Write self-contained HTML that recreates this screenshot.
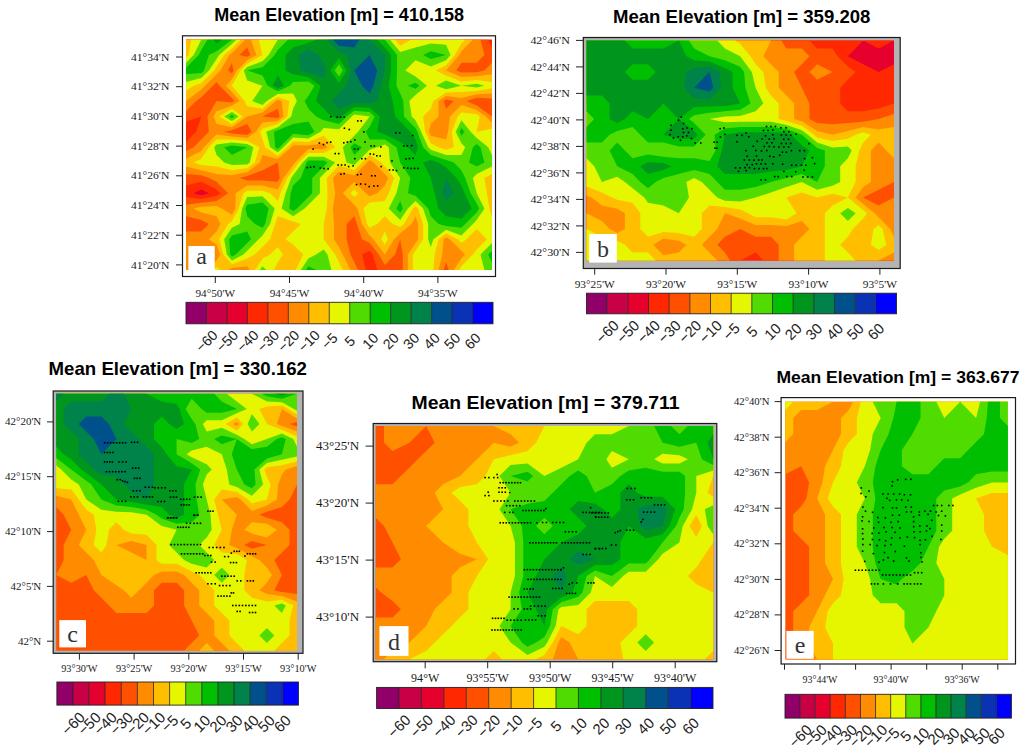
<!DOCTYPE html>
<html><head><meta charset="utf-8"><title>Mean Elevation</title>
<style>
html,body{margin:0;padding:0;background:#fff;width:1024px;height:751px;overflow:hidden;}
svg{display:block;font-family:"Liberation Sans",sans-serif;}
</style></head><body>
<svg width="1024" height="751" viewBox="0 0 1024 751" shape-rendering="auto">
<rect width="1024" height="751" fill="#fff"/>
<rect x="182.5" y="35.8" width="313.0" height="240.7" fill="#ffffff" stroke="#1a1a1a" stroke-width="1.2"/>
<rect x="186.0" y="39.7" width="306.0" height="230.3" fill="#e6002d"/>
<path fill="#ff2800" fill-rule="evenodd" d="M186 39.7L201.3 39.7L216.6 39.7L231.9 39.7L247.2 39.7L262.5 39.7L277.8 39.7L293.1 39.7L308.4 39.7L323.7 39.7L339 39.7L354.3 39.7L369.6 39.7L384.9 39.7L400.2 39.7L415.5 39.7L430.8 39.7L446.1 39.7L461.4 39.7L476.7 39.7L492 39.7L492 55.1L492 70.4L492 85.8L492 101.1L492 116.5L492 131.8L492 147.2L492 162.5L492 177.9L492 193.2L492 208.6L492 223.9L492 239.3L492 254.6L492 270L476.7 270L461.4 270L446.1 270L430.8 270L415.5 270L400.2 270L384.9 270L369.6 270L354.3 270L339 270L323.7 270L308.4 270L293.1 270L277.8 270L262.5 270L247.2 270L231.9 270L216.6 270L201.3 270L186 270L186 254.6L186 239.3L186 223.9L186 208.6L186 193.2L186 177.9L186 162.5L186 147.2L186 131.8L186 131.8L186 131.8L186 116.5L186 101.1L186 85.8L186 70.4L186 55.1ZM201.3 189.4L193.7 193.2L201.3 195.2L208.9 193.2Z"/>
<path fill="#ff5000" fill-rule="evenodd" d="M186 39.7L201.3 39.7L216.6 39.7L231.9 39.7L247.2 39.7L262.5 39.7L277.8 39.7L293.1 39.7L308.4 39.7L323.7 39.7L339 39.7L354.3 39.7L369.6 39.7L384.9 39.7L400.2 39.7L415.5 39.7L430.8 39.7L446.1 39.7L461.4 39.7L476.7 39.7L488.2 39.7L492 47.4L492 55.1L492 70.4L492 85.8L492 101.1L492 116.5L492 131.8L492 147.2L492 162.5L492 177.9L492 193.2L492 208.6L492 223.9L492 239.3L492 254.6L492 270L476.7 270L461.4 270L446.1 270L430.8 270L415.5 270L400.2 270L384.9 270L377.2 270L372.7 254.6L369.6 250.8L362 254.6L365.8 270L354.3 270L339 270L323.7 270L308.4 270L293.1 270L277.8 270L262.5 270L247.2 270L231.9 270L216.6 270L201.3 270L186 270L186 254.6L186 239.3L186 223.9L186 208.6L186 197.1L201.3 199L216.6 195.8L220.4 193.2L216.6 189.4L201.3 181.7L186 185.6L186 177.9L186 162.5L186 147.2L186 142.1L196.2 131.8L201.3 116.5L201.3 116.5L201.3 116.5L201.3 116.5L186 121.6L186 116.5L186 101.1L186 85.8L186 70.4L186 55.1ZM247.2 131.8L247.2 131.8L247.2 131.8L247.2 131.8ZM476.7 101.1L476.7 101.1L476.7 101.1L476.7 101.1Z"/>
<path fill="#ff8c00" fill-rule="evenodd" d="M186 39.7L201.3 39.7L216.6 39.7L231.9 39.7L247.2 39.7L262.5 39.7L277.8 39.7L293.1 39.7L308.4 39.7L323.7 39.7L339 39.7L354.3 39.7L369.6 39.7L384.9 39.7L400.2 39.7L415.5 39.7L430.8 39.7L446.1 39.7L461.4 39.7L476.7 39.7L480.5 39.7L484.4 55.1L476.7 62.7L461.4 62.7L456.3 70.4L461.4 72.6L476.7 72.3L484.4 70.4L492 62.7L492 70.4L492 85.8L492 98.6L476.7 97.7L466.5 101.1L476.7 105.5L492 116.5L492 116.5L492 131.8L492 147.2L492 162.5L492 177.9L492 193.2L492 208.6L492 223.9L492 239.3L492 254.6L492 270L476.7 270L461.4 270L448.7 270L446.1 262.3L443.6 270L430.8 270L415.5 270L402.8 270L402.8 254.6L400.2 239.3L400.2 239.3L400.2 239.3L395.1 254.6L384.9 264.9L378.8 254.6L369.6 243.1L362 239.3L356.9 223.9L354.3 216.3L346.6 223.9L346.6 239.3L350.5 254.6L354.3 262.3L358.1 270L354.3 270L339 270L323.7 270L308.4 270L293.1 270L277.8 270L262.5 270L247.2 270L231.9 270L216.6 270L201.3 270L186 270L186 254.6L186 239.3L186 231.6L201.3 231.6L208.9 223.9L201.3 220.1L186 216.3L186 208.6L186 204.7L201.3 202.8L216.6 200.9L228.1 193.2L216.6 181.7L208.9 177.9L201.3 175.3L186 174L186 162.5L186 151L193.7 147.2L201.3 139.5L208.9 131.8L207.4 116.5L216.6 101.1L231.9 102.6L234.4 101.1L231.9 98L219.7 85.8L216.6 81.9L212.8 85.8L201.3 97.3L196.2 101.1L186 111.3L186 101.1L186 85.8L186 70.4L186 55.1ZM231.9 62.7L228.1 70.4L231.9 73.5L233.6 70.4ZM247.2 47.4L239.6 55.1L247.2 56.8L250.3 55.1ZM262.5 116.5L262.5 116.5L262.5 116.5L277.8 118L279.7 116.5L277.8 108.8ZM339 177.9L339 177.9L339 177.9L339 177.9ZM446.1 99.4L443.6 101.1L446.1 108.8L453.8 101.1ZM216.6 254.6L216.6 254.6L216.6 254.6L216.6 254.6ZM231.9 130.3L224.2 131.8L231.9 133.4L247.2 134.9L251.6 131.8L247.2 124.1ZM277.8 162.5L277.8 162.5L262.5 170.2L247.2 176L239.6 177.9L247.2 180.4L262.5 180.4L277.8 181.7L279.7 177.9L277.8 162.5ZM339 208.6L339 208.6L339 208.6L339 208.6ZM231.9 208.6L231.9 208.6L231.9 208.6L231.9 208.6Z"/>
<path fill="#ffbe00" fill-rule="evenodd" d="M186 39.7L201.3 39.7L216.6 39.7L231.9 39.7L245 39.7L231.9 52.9L229.3 55.1L220.4 70.4L216.6 74.2L205.1 85.8L201.3 89.6L186 101.1L186 85.8L186 70.4L186 55.1ZM251 39.7L262.5 39.7L277.8 39.7L293.1 39.7L308.4 39.7L323.7 39.7L339 39.7L354.3 39.7L369.6 39.7L384.9 39.7L400.2 39.7L400.2 39.7L400.2 39.7L415.5 39.7L430.8 39.7L446.1 39.7L461.4 39.7L472.9 39.7L461.4 51.2L459.2 55.1L446.1 70.4L446.1 70.4L446.1 70.4L461.4 77L476.7 76.2L492 74.2L492 85.8L492 93.4L476.7 94.3L461.4 98L446.1 96L438.5 101.1L438.5 116.5L430.8 124.1L428.9 131.8L430.8 135.7L446.1 139.5L448 131.8L449.9 116.5L461.4 105L476.7 109.9L485.9 116.5L492 122.6L492 131.8L492 147.2L492 162.5L492 177.9L492 193.2L492 208.6L492 223.9L492 239.3L492 254.6L492 270L476.7 270L461.4 270L453.8 270L461.4 258.5L465.2 254.6L461.4 250.8L449.9 239.3L446.1 237.4L443.6 239.3L442.3 254.6L438.5 270L430.8 270L415.5 270L407.9 270L407.9 254.6L415.5 243.1L418.1 239.3L418.1 223.9L415.5 216.3L411.7 223.9L400.2 233.2L394.1 239.3L384.9 254.6L373.4 239.3L369.6 235.5L362 223.9L357.4 208.6L354.3 204.7L342.8 193.2L354.3 181.7L365.8 193.2L369.6 196.3L377.2 193.2L384.9 185.6L388 177.9L384.9 174L373.4 162.5L369.6 160L367.1 162.5L354.3 175.3L339 171.7L332.9 177.9L335.2 193.2L332.9 208.6L333.9 223.9L333.9 239.3L339 247L342.8 254.6L350.5 270L339 270L323.7 270L308.4 270L293.1 270L277.8 270L262.5 270L249.8 270L247.2 266.2L231.9 268.1L228.1 270L216.6 270L205.1 270L216.6 260.8L220 254.6L216.6 244.4L208.9 239.3L216.6 231.6L220.4 223.9L216.6 216.3L201.3 212.4L193.7 208.6L201.3 206.7L216.6 206L221.7 208.6L231.9 214.7L235.3 208.6L235.7 193.2L247.2 185.6L262.5 185.6L277.8 189.4L283.5 177.9L293.1 165.1L295 162.5L308.4 149.1L323.7 149.1L327.5 147.2L323.7 143.3L308.4 145.5L293.1 145.3L291.2 147.2L277.8 159.1L262.5 154.9L259.9 162.5L247.2 172.1L231.9 175.3L216.6 174L201.3 170.2L186 166.4L186 162.5L186 158.7L201.3 151L203.9 147.2L216.6 134.4L231.9 136.4L247.2 138L255.9 131.8L262.5 122.6L277.8 121.1L283.5 116.5L281.6 101.1L277.8 99.7L275.6 101.1L262.5 112.6L247.2 116.5L247.2 116.5L231.9 127.2L216.6 124.1L213.5 116.5L216.6 111.3L231.9 105.7L239.6 101.1L231.9 91.9L225.8 85.8L231.9 79.6L237 70.4L247.2 60.2L256.4 55.1ZM476.7 239.3L476.7 239.3L476.7 239.3L476.7 239.3ZM293.1 254.6L293.1 254.6L293.1 254.6L293.1 254.6Z"/>
<path fill="#e6f500" fill-rule="evenodd" d="M191.1 39.7L201.3 39.7L216.6 39.7L231.9 39.7L240.6 39.7L231.9 48.5L224.2 55.1L216.6 66.6L214.1 70.4L201.3 83.2L193.7 85.8L186 90.9L186 85.8L186 70.4L186 57.6L188.6 55.1ZM258.7 39.7L262.5 39.7L277.8 39.7L293.1 39.7L308.4 39.7L323.7 39.7L339 39.7L354.3 39.7L369.6 39.7L384.9 39.7L395.1 39.7L400.2 45.8L410.4 39.7L415.5 39.7L430.8 39.7L446.1 39.7L461.4 39.7L465.2 39.7L461.4 43.5L454.8 55.1L446.1 65.3L435.9 70.4L446.1 75.5L461.4 81.4L476.7 80L492 81.9L492 85.8L492 88.3L476.7 90.9L461.4 91.9L446.1 92.6L433.4 101.1L430.8 108.8L423.1 116.5L425.1 131.8L430.8 143.3L438.5 147.2L446.1 149.7L453.8 147.2L451.8 131.8L457.6 116.5L461.4 112.6L476.7 114.3L479.8 116.5L476.7 131.8L476.7 131.8L476.7 131.8L476.7 131.8L492 128.7L492 131.8L492 147.2L492 162.5L492 174L484.4 177.9L486.9 193.2L489.4 208.6L492 216.3L492 223.9L492 239.3L492 254.6L492 270L476.7 270L461.4 270L458.9 270L461.4 266.2L472.9 254.6L476.7 249.5L486.9 239.3L476.7 229.1L466.5 239.3L461.4 243.1L457.6 239.3L446.1 233.5L438.5 239.3L434.6 254.6L433.4 270L430.8 270L415.5 270L412.9 270L412.9 254.6L415.5 250.8L423.1 239.3L423.1 223.9L418.1 208.6L415.5 206L412.9 208.6L404 223.9L400.2 227L392.6 223.9L384.9 216.3L377.2 223.9L369.6 227.8L367.1 223.9L363.5 208.6L369.6 202.4L384.9 200.9L388.7 193.2L394.1 177.9L384.9 166.4L381.1 162.5L369.6 154.9L362 162.5L354.3 170.2L339 165.6L326.8 177.9L327.5 193.2L326.8 208.6L323.7 223.9L323.7 223.9L323.7 239.3L323.7 239.3L335.2 254.6L339 262.3L342.8 270L339 270L323.7 270L308.4 270L295.7 270L303.3 254.6L293.1 244.4L285.5 239.3L293.1 231.6L300.8 223.9L293.1 221.4L277.8 216.3L275.2 223.9L270.1 239.3L262.5 247L254.8 254.6L247.2 258.5L231.9 264.2L223.4 254.6L219.2 239.3L228.1 223.9L231.9 220.9L238.7 208.6L243.4 193.2L247.2 190.7L262.5 190.7L270.1 193.2L277.8 200.9L280.4 193.2L287.4 177.9L293.1 170.2L298.8 162.5L308.4 152.9L323.7 152.9L335.2 147.2L323.7 135.7L308.4 142.1L293.1 141.4L287.4 147.2L277.8 155.7L265.1 147.2L262.5 139.5L260.3 131.8L262.5 128.7L277.8 124.1L287.4 116.5L289.3 101.1L277.8 96.9L271.2 101.1L262.5 108.8L247.2 106.2L244.6 101.1L231.9 85.8L240.4 70.4L247.2 63.6L262.5 55.1L262.5 55.1L262.5 55.1ZM415.5 70.4L415.5 70.4L415.5 70.4L415.5 70.4ZM415.5 101.1L415.5 101.1L415.5 101.1L415.5 101.1ZM219.2 116.5L231.9 108.8L242.8 116.5L231.9 124.1ZM208.9 147.2L216.6 139.5L231.9 139.5L247.2 141L259.4 147.2L254.8 162.5L247.2 168.3L231.9 170.2L216.6 166.4L201.3 165.1L193.7 162.5L201.3 158.7ZM350.5 193.2L354.3 189.4L358.1 193.2L354.3 197.1ZM381.1 239.3L384.9 231.6L388 239.3L384.9 244.4ZM270.1 254.6L277.8 247L282.9 254.6L277.8 262.3L274 270L262.5 270L254.8 270L262.5 258.5ZM212.8 270L216.6 266.9L220.4 270L216.6 270Z"/>
<path fill="#50dc00" fill-rule="evenodd" d="M193.7 55.1L201.3 39.7L201.3 39.7L216.6 39.7L231.9 39.7L236.3 39.7L231.9 44.1L219.1 55.1L216.6 58.9L208.9 70.4L201.3 78.1L186 81.9L186 70.4L186 62.7ZM268.6 55.1L277.8 39.7L277.8 39.7L293.1 39.7L308.4 39.7L323.7 39.7L339 39.7L354.3 39.7L369.6 39.7L384.9 39.7L390 39.7L400.2 52L415.5 47.4L430.8 43.5L446.1 44.8L450.5 55.1L446.1 60.2L430.8 66.6L415.5 60.2L405.3 70.4L415.5 76.5L427 85.8L415.5 95L409.4 101.1L411.7 116.5L415.5 120.3L421.2 131.8L428.2 147.2L430.8 149.7L446.1 154.9L461.4 154.9L465.2 147.2L461.4 143.3L455.7 131.8L461.4 120.3L470.6 131.8L476.7 138L488.2 147.2L492 154.9L492 162.5L492 166.4L476.7 174L472.9 177.9L476.7 193.2L476.7 193.2L484.4 208.6L476.7 220.1L472.9 223.9L461.4 235.5L446.1 229.7L433.4 239.3L430.8 247L428.2 239.3L428.2 223.9L423.1 208.6L415.5 200.9L407.9 208.6L400.2 220.1L388.7 208.6L396.4 193.2L400.2 177.9L400.2 177.9L400.2 177.9L390 162.5L388.7 147.2L384.9 144.6L377.2 147.2L369.6 149.7L356.8 162.5L354.3 165.1L346.6 162.5L342.8 147.2L354.3 135.7L358.1 131.8L369.6 116.5L369.6 116.5L369.6 116.5L354.3 114.5L351.8 116.5L339 129.3L323.7 128L320.6 131.8L308.4 138.6L293.1 137.6L283.5 147.2L277.8 152.3L270.1 147.2L266.3 131.8L277.8 127.2L291.2 116.5L293.1 108.8L296.9 101.1L293.1 93.4L277.8 94.1L266.9 101.1L262.5 105L252.3 101.1L262.5 85.8L262.5 85.8L262.5 85.8L247.2 80.6L243.8 70.4L247.2 67L262.5 61.2ZM308.4 85.8L308.4 85.8L308.4 85.8L308.4 85.8ZM339 70.4L339 70.4L339 70.4L339 70.4ZM435.9 85.8L446.1 80.6L461.4 85.8L446.1 89.2ZM461.4 85.8L476.7 83.8L484.4 85.8L476.7 87.5ZM224.2 116.5L231.9 111.9L238.5 116.5L231.9 121.1ZM214.1 147.2L216.6 144.6L231.9 142.6L247.2 144.1L253.3 147.2L249.8 162.5L247.2 164.4L231.9 165.1L224.2 162.5L216.6 154.9ZM302.7 162.5L308.4 156.8L323.7 156.8L335.2 162.5L323.7 174L319.9 177.9L319.9 193.2L308.4 204.7L304.6 208.6L293.1 216.3L281.6 208.6L285.5 193.2L291.2 177.9L293.1 175.3ZM242.1 208.6L247.2 197.1L262.5 196.3L274.7 208.6L270.1 223.9L262.5 235.5L258.7 239.3L247.2 250.8L243.4 254.6L231.9 260.4L226.8 254.6L224.2 239.3L231.9 227.8L239.6 223.9ZM316.1 254.6L323.7 249.5L327.5 254.6L331.4 270L323.7 270L308.4 270L300.8 270L308.4 258.5ZM480.5 254.6L492 243.1L492 254.6L492 270L484.4 270ZM259.9 270L262.5 266.2L266.3 270L262.5 270Z"/>
<path fill="#00be00" fill-rule="evenodd" d="M198.8 55.1L201.3 49.9L207.4 39.7L216.6 39.7L231.9 39.7L216.6 51.2L208.9 55.1L203.9 70.4L201.3 73L186 74.2L186 70.4L186 67.8ZM274.7 55.1L277.8 49.9L288 39.7L293.1 39.7L308.4 39.7L323.7 39.7L339 39.7L354.3 39.7L369.6 39.7L384.9 39.7L384.9 39.7L397.1 55.1L397.1 70.4L396.4 85.8L400.2 93.4L403.3 101.1L404 116.5L415.5 128L417.4 131.8L423.1 147.2L430.8 154.9L446.1 160L453.8 162.5L461.4 170.2L465.2 177.9L470.6 193.2L476.7 203.5L479.2 208.6L476.7 212.4L465.2 223.9L461.4 227.8L446.1 225.9L438.5 223.9L430.8 216.3L428.2 208.6L415.5 195.8L407.9 193.2L410.4 177.9L400.2 162.5L400.2 162.5L396.4 147.2L384.9 139.5L369.6 139.5L365.8 131.8L369.6 126.7L374.7 116.5L369.6 112.1L354.3 110.7L346.6 116.5L339 124.1L323.7 120.3L316.1 116.5L308.4 108.8L304.6 101.1L308.4 96L314.5 85.8L308.4 81.4L293.1 81.9L290 85.8L277.8 91.3L267.6 85.8L262.5 75.5L247.2 70.4L262.5 67.3ZM339 64.3L334.6 70.4L339 76.5L342.8 70.4ZM423.1 55.1L430.8 51.2L446.1 55.1L430.8 58.9ZM407.9 85.8L415.5 82.7L419.3 85.8L415.5 88.8ZM229.3 116.5L231.9 114.9L234.1 116.5L231.9 118ZM274 131.8L277.8 130.3L293.1 124.1L308.4 121.6L314.5 131.8L308.4 135.2L293.1 133.7L279.7 147.2L277.8 148.9L275.2 147.2ZM459.5 131.8L461.4 128L464.5 131.8L461.4 135.7ZM224.2 147.2L231.9 145.6L247.2 147.2L231.9 154.9ZM350.5 147.2L354.3 143.3L362 147.2L354.3 154.9ZM472.9 147.2L476.7 144.1L480.5 147.2L484.4 162.5L476.7 166.4L469.1 162.5ZM306.5 162.5L308.4 160.6L323.7 160.6L327.5 162.5L323.7 166.4L312.2 177.9L312.2 193.2L308.4 197.1L296.9 208.6L293.1 211.1L289.3 208.6L290.6 193.2L293.1 185.6L300.8 177.9ZM245.5 208.6L247.2 204.7L262.5 202.4L268.6 208.6L265.1 223.9L262.5 227.8L254.8 223.9L247.2 216.3ZM396.4 208.6L400.2 200.9L402.8 208.6L400.2 212.4ZM229.3 239.3L231.9 235.5L247.2 231.6L251 239.3L247.2 243.1L235.7 254.6L231.9 256.6L230.2 254.6ZM488.2 254.6L492 250.8L492 254.6L492 262.3ZM305.9 270L308.4 266.2L316.1 270L308.4 270Z"/>
<path fill="#00961e" fill-rule="evenodd" d="M213.5 39.7L216.6 39.7L221.7 39.7L216.6 43.5ZM285.5 55.1L293.1 47.4L308.4 42.8L316.1 39.7L323.7 39.7L339 39.7L354.3 39.7L369.6 39.7L377.2 39.7L384.9 47.4L391 55.1L391 70.4L388.7 85.8L392.6 101.1L395.1 116.5L400.2 121.6L410.4 131.8L415.5 139.5L418 147.2L415.5 154.9L407.9 147.2L400.2 142.1L384.9 134.4L377.2 131.8L379.8 116.5L369.6 107.7L354.3 106.9L341.6 116.5L339 119L331.4 116.5L323.7 108.8L316.1 101.1L320.6 85.8L308.4 77L293.1 74.2L285.5 70.4ZM339 58.1L330.3 70.4L339 82.7L346.6 70.4ZM272.7 85.8L277.8 75.5L283.9 85.8L277.8 88.6ZM423.1 162.5L430.8 160L438.5 162.5L446.1 167.6L456.3 177.9L461.4 185.6L464.5 193.2L471.6 208.6L461.4 218.8L446.1 216.3L438.5 208.6L434.6 193.2L430.8 177.9L430.8 177.9Z"/>
<path fill="#00824b" fill-rule="evenodd" d="M298.2 55.1L308.4 48.9L318.6 55.1L323.7 62.7L325.9 70.4L323.7 78.1L308.4 72.6L300.8 70.4ZM326.8 39.7L339 39.7L354.3 39.7L369.6 39.7L369.6 39.7L384.9 55.1L384.9 70.4L381.1 85.8L377.2 101.1L369.6 103.3L354.3 103L339 108.8L331.4 101.1L339 93.4L346.6 85.8L350.5 70.4L346.6 55.1L339 52ZM442.3 193.2L446.1 177.9L453.8 193.2L446.1 200.9Z"/>
<path fill="#00508c" fill-rule="evenodd" d="M332.9 39.7L339 39.7L354.3 39.7L359.4 39.7L354.3 47.4L339 45.8ZM354.3 70.4L369.6 55.1L377.2 70.4L373.4 85.8L369.6 93.4L362 85.8Z"/>
<rect x="330.0" y="115.9" width="1.6" height="1.6" fill="#000"/>
<rect x="336.4" y="116.3" width="1.6" height="1.6" fill="#000"/>
<rect x="339.8" y="116.3" width="1.6" height="1.6" fill="#000"/>
<rect x="343.4" y="116.3" width="1.6" height="1.6" fill="#000"/>
<rect x="357.0" y="120.1" width="1.6" height="1.6" fill="#000"/>
<rect x="360.4" y="120.1" width="1.6" height="1.6" fill="#000"/>
<rect x="343.6" y="127.4" width="1.6" height="1.6" fill="#000"/>
<rect x="348.5" y="128.7" width="1.6" height="1.6" fill="#000"/>
<rect x="363.1" y="131.1" width="1.6" height="1.6" fill="#000"/>
<rect x="395.0" y="132.1" width="1.6" height="1.6" fill="#000"/>
<rect x="398.9" y="132.1" width="1.6" height="1.6" fill="#000"/>
<rect x="411.9" y="134.7" width="1.6" height="1.6" fill="#000"/>
<rect x="318.6" y="142.3" width="1.6" height="1.6" fill="#000"/>
<rect x="322.7" y="143.8" width="1.6" height="1.6" fill="#000"/>
<rect x="326.2" y="141.9" width="1.6" height="1.6" fill="#000"/>
<rect x="329.9" y="141.3" width="1.6" height="1.6" fill="#000"/>
<rect x="343.0" y="142.0" width="1.6" height="1.6" fill="#000"/>
<rect x="346.6" y="141.3" width="1.6" height="1.6" fill="#000"/>
<rect x="350.0" y="140.9" width="1.6" height="1.6" fill="#000"/>
<rect x="354.0" y="139.1" width="1.6" height="1.6" fill="#000"/>
<rect x="364.2" y="141.3" width="1.6" height="1.6" fill="#000"/>
<rect x="370.3" y="145.2" width="1.6" height="1.6" fill="#000"/>
<rect x="373.5" y="145.2" width="1.6" height="1.6" fill="#000"/>
<rect x="380.1" y="146.1" width="1.6" height="1.6" fill="#000"/>
<rect x="403.0" y="145.1" width="1.6" height="1.6" fill="#000"/>
<rect x="406.5" y="145.1" width="1.6" height="1.6" fill="#000"/>
<rect x="410.9" y="144.8" width="1.6" height="1.6" fill="#000"/>
<rect x="312.3" y="148.3" width="1.6" height="1.6" fill="#000"/>
<rect x="353.8" y="148.3" width="1.6" height="1.6" fill="#000"/>
<rect x="357.3" y="148.3" width="1.6" height="1.6" fill="#000"/>
<rect x="334.4" y="152.8" width="1.6" height="1.6" fill="#000"/>
<rect x="337.9" y="152.8" width="1.6" height="1.6" fill="#000"/>
<rect x="369.4" y="153.1" width="1.6" height="1.6" fill="#000"/>
<rect x="372.8" y="153.5" width="1.6" height="1.6" fill="#000"/>
<rect x="376.0" y="155.0" width="1.6" height="1.6" fill="#000"/>
<rect x="379.4" y="155.2" width="1.6" height="1.6" fill="#000"/>
<rect x="391.2" y="160.1" width="1.6" height="1.6" fill="#000"/>
<rect x="354.0" y="157.9" width="1.6" height="1.6" fill="#000"/>
<rect x="361.0" y="157.9" width="1.6" height="1.6" fill="#000"/>
<rect x="364.6" y="157.9" width="1.6" height="1.6" fill="#000"/>
<rect x="405.2" y="158.2" width="1.6" height="1.6" fill="#000"/>
<rect x="408.6" y="157.8" width="1.6" height="1.6" fill="#000"/>
<rect x="412.2" y="157.5" width="1.6" height="1.6" fill="#000"/>
<rect x="337.3" y="164.2" width="1.6" height="1.6" fill="#000"/>
<rect x="340.8" y="164.2" width="1.6" height="1.6" fill="#000"/>
<rect x="344.3" y="164.2" width="1.6" height="1.6" fill="#000"/>
<rect x="347.8" y="165.8" width="1.6" height="1.6" fill="#000"/>
<rect x="352.3" y="165.1" width="1.6" height="1.6" fill="#000"/>
<rect x="306.4" y="166.8" width="1.6" height="1.6" fill="#000"/>
<rect x="309.7" y="166.4" width="1.6" height="1.6" fill="#000"/>
<rect x="313.2" y="166.0" width="1.6" height="1.6" fill="#000"/>
<rect x="319.5" y="167.3" width="1.6" height="1.6" fill="#000"/>
<rect x="323.1" y="167.7" width="1.6" height="1.6" fill="#000"/>
<rect x="327.4" y="168.1" width="1.6" height="1.6" fill="#000"/>
<rect x="380.4" y="165.8" width="1.6" height="1.6" fill="#000"/>
<rect x="388.7" y="169.2" width="1.6" height="1.6" fill="#000"/>
<rect x="392.3" y="169.2" width="1.6" height="1.6" fill="#000"/>
<rect x="395.7" y="169.8" width="1.6" height="1.6" fill="#000"/>
<rect x="403.0" y="167.0" width="1.6" height="1.6" fill="#000"/>
<rect x="406.9" y="167.3" width="1.6" height="1.6" fill="#000"/>
<rect x="410.3" y="167.7" width="1.6" height="1.6" fill="#000"/>
<rect x="413.8" y="167.7" width="1.6" height="1.6" fill="#000"/>
<rect x="417.3" y="167.7" width="1.6" height="1.6" fill="#000"/>
<rect x="340.1" y="173.4" width="1.6" height="1.6" fill="#000"/>
<rect x="343.4" y="172.8" width="1.6" height="1.6" fill="#000"/>
<rect x="356.7" y="174.0" width="1.6" height="1.6" fill="#000"/>
<rect x="360.1" y="173.4" width="1.6" height="1.6" fill="#000"/>
<rect x="370.9" y="175.0" width="1.6" height="1.6" fill="#000"/>
<rect x="374.4" y="175.0" width="1.6" height="1.6" fill="#000"/>
<rect x="355.7" y="183.8" width="1.6" height="1.6" fill="#000"/>
<rect x="359.9" y="183.2" width="1.6" height="1.6" fill="#000"/>
<rect x="364.6" y="183.5" width="1.6" height="1.6" fill="#000"/>
<rect x="368.4" y="185.8" width="1.6" height="1.6" fill="#000"/>
<rect x="373.1" y="185.2" width="1.6" height="1.6" fill="#000"/>
<rect x="376.9" y="185.1" width="1.6" height="1.6" fill="#000"/>
<rect x="188.4" y="246.0" width="26.3" height="24.0" fill="#fff"/>
<text x="201.5" y="264.0" font-family="Liberation Serif" font-size="24.0" text-anchor="middle" fill="#333">a</text>
<text x="214.2" y="21.0" font-family="Liberation Sans" font-weight="bold" font-size="17.7" textLength="249.8" lengthAdjust="spacingAndGlyphs" fill="#000">Mean Elevation [m] = 410.158</text>
<line x1="176.0" y1="57.0" x2="182.5" y2="57.0" stroke="#222" stroke-width="1"/>
<text x="169.3" y="60.6" font-family="Liberation Serif" font-size="11.0" text-anchor="end" textLength="38.4" lengthAdjust="spacingAndGlyphs" fill="#1a1a1a">41°34'N</text>
<line x1="176.0" y1="86.7" x2="182.5" y2="86.7" stroke="#222" stroke-width="1"/>
<text x="169.3" y="90.3" font-family="Liberation Serif" font-size="11.0" text-anchor="end" textLength="38.4" lengthAdjust="spacingAndGlyphs" fill="#1a1a1a">41°32'N</text>
<line x1="176.0" y1="116.4" x2="182.5" y2="116.4" stroke="#222" stroke-width="1"/>
<text x="169.3" y="120.0" font-family="Liberation Serif" font-size="11.0" text-anchor="end" textLength="38.4" lengthAdjust="spacingAndGlyphs" fill="#1a1a1a">41°30'N</text>
<line x1="176.0" y1="146.1" x2="182.5" y2="146.1" stroke="#222" stroke-width="1"/>
<text x="169.3" y="149.7" font-family="Liberation Serif" font-size="11.0" text-anchor="end" textLength="38.4" lengthAdjust="spacingAndGlyphs" fill="#1a1a1a">41°28'N</text>
<line x1="176.0" y1="175.8" x2="182.5" y2="175.8" stroke="#222" stroke-width="1"/>
<text x="169.3" y="179.4" font-family="Liberation Serif" font-size="11.0" text-anchor="end" textLength="38.4" lengthAdjust="spacingAndGlyphs" fill="#1a1a1a">41°26'N</text>
<line x1="176.0" y1="205.5" x2="182.5" y2="205.5" stroke="#222" stroke-width="1"/>
<text x="169.3" y="209.1" font-family="Liberation Serif" font-size="11.0" text-anchor="end" textLength="38.4" lengthAdjust="spacingAndGlyphs" fill="#1a1a1a">41°24'N</text>
<line x1="176.0" y1="235.2" x2="182.5" y2="235.2" stroke="#222" stroke-width="1"/>
<text x="169.3" y="238.8" font-family="Liberation Serif" font-size="11.0" text-anchor="end" textLength="38.4" lengthAdjust="spacingAndGlyphs" fill="#1a1a1a">41°22'N</text>
<line x1="176.0" y1="264.9" x2="182.5" y2="264.9" stroke="#222" stroke-width="1"/>
<text x="169.3" y="268.5" font-family="Liberation Serif" font-size="11.0" text-anchor="end" textLength="38.4" lengthAdjust="spacingAndGlyphs" fill="#1a1a1a">41°20'N</text>
<line x1="215.3" y1="276.5" x2="215.3" y2="283.0" stroke="#222" stroke-width="1"/>
<text x="215.3" y="296.6" font-family="Liberation Serif" font-size="11.0" text-anchor="middle" textLength="39.6" lengthAdjust="spacingAndGlyphs" fill="#1a1a1a">94°50'W</text>
<line x1="289.5" y1="276.5" x2="289.5" y2="283.0" stroke="#222" stroke-width="1"/>
<text x="289.5" y="296.6" font-family="Liberation Serif" font-size="11.0" text-anchor="middle" textLength="39.6" lengthAdjust="spacingAndGlyphs" fill="#1a1a1a">94°45'W</text>
<line x1="363.7" y1="276.5" x2="363.7" y2="283.0" stroke="#222" stroke-width="1"/>
<text x="363.7" y="296.6" font-family="Liberation Serif" font-size="11.0" text-anchor="middle" textLength="39.6" lengthAdjust="spacingAndGlyphs" fill="#1a1a1a">94°40'W</text>
<line x1="437.9" y1="276.5" x2="437.9" y2="283.0" stroke="#222" stroke-width="1"/>
<text x="437.9" y="296.6" font-family="Liberation Serif" font-size="11.0" text-anchor="middle" textLength="39.6" lengthAdjust="spacingAndGlyphs" fill="#1a1a1a">94°35'W</text>
<rect x="186.00" y="302.3" width="20.47" height="21.5" fill="#910069"/>
<rect x="206.47" y="302.3" width="20.47" height="21.5" fill="#c80046"/>
<rect x="226.93" y="302.3" width="20.47" height="21.5" fill="#e6002d"/>
<rect x="247.40" y="302.3" width="20.47" height="21.5" fill="#ff2800"/>
<rect x="267.87" y="302.3" width="20.47" height="21.5" fill="#ff5000"/>
<rect x="288.33" y="302.3" width="20.47" height="21.5" fill="#ff8c00"/>
<rect x="308.80" y="302.3" width="20.47" height="21.5" fill="#ffbe00"/>
<rect x="329.27" y="302.3" width="20.47" height="21.5" fill="#e6f500"/>
<rect x="349.73" y="302.3" width="20.47" height="21.5" fill="#50dc00"/>
<rect x="370.20" y="302.3" width="20.47" height="21.5" fill="#00be00"/>
<rect x="390.67" y="302.3" width="20.47" height="21.5" fill="#00961e"/>
<rect x="411.13" y="302.3" width="20.47" height="21.5" fill="#00824b"/>
<rect x="431.60" y="302.3" width="20.47" height="21.5" fill="#00508c"/>
<rect x="452.07" y="302.3" width="20.47" height="21.5" fill="#0a32b4"/>
<rect x="472.53" y="302.3" width="20.47" height="21.5" fill="#0000ff"/>
<line x1="206.47" y1="302.3" x2="206.47" y2="323.8" stroke="#222" stroke-width="0.8"/>
<line x1="226.93" y1="302.3" x2="226.93" y2="323.8" stroke="#222" stroke-width="0.8"/>
<line x1="247.40" y1="302.3" x2="247.40" y2="323.8" stroke="#222" stroke-width="0.8"/>
<line x1="267.87" y1="302.3" x2="267.87" y2="323.8" stroke="#222" stroke-width="0.8"/>
<line x1="288.33" y1="302.3" x2="288.33" y2="323.8" stroke="#222" stroke-width="0.8"/>
<line x1="308.80" y1="302.3" x2="308.80" y2="323.8" stroke="#222" stroke-width="0.8"/>
<line x1="329.27" y1="302.3" x2="329.27" y2="323.8" stroke="#222" stroke-width="0.8"/>
<line x1="349.73" y1="302.3" x2="349.73" y2="323.8" stroke="#222" stroke-width="0.8"/>
<line x1="370.20" y1="302.3" x2="370.20" y2="323.8" stroke="#222" stroke-width="0.8"/>
<line x1="390.67" y1="302.3" x2="390.67" y2="323.8" stroke="#222" stroke-width="0.8"/>
<line x1="411.13" y1="302.3" x2="411.13" y2="323.8" stroke="#222" stroke-width="0.8"/>
<line x1="431.60" y1="302.3" x2="431.60" y2="323.8" stroke="#222" stroke-width="0.8"/>
<line x1="452.07" y1="302.3" x2="452.07" y2="323.8" stroke="#222" stroke-width="0.8"/>
<line x1="472.53" y1="302.3" x2="472.53" y2="323.8" stroke="#222" stroke-width="0.8"/>
<rect x="186.0" y="302.3" width="307.0" height="21.5" fill="none" stroke="#222" stroke-width="0.9"/>
<text x="206.5" y="346.1" font-family="Liberation Sans" font-size="14.2" text-anchor="middle" transform="rotate(-45 206.5 341.0)" fill="#222">−60</text>
<text x="226.9" y="346.1" font-family="Liberation Sans" font-size="14.2" text-anchor="middle" transform="rotate(-45 226.9 341.0)" fill="#222">−50</text>
<text x="247.4" y="346.1" font-family="Liberation Sans" font-size="14.2" text-anchor="middle" transform="rotate(-45 247.4 341.0)" fill="#222">−40</text>
<text x="267.9" y="346.1" font-family="Liberation Sans" font-size="14.2" text-anchor="middle" transform="rotate(-45 267.9 341.0)" fill="#222">−30</text>
<text x="288.3" y="346.1" font-family="Liberation Sans" font-size="14.2" text-anchor="middle" transform="rotate(-45 288.3 341.0)" fill="#222">−20</text>
<text x="308.8" y="346.1" font-family="Liberation Sans" font-size="14.2" text-anchor="middle" transform="rotate(-45 308.8 341.0)" fill="#222">−10</text>
<text x="329.3" y="346.1" font-family="Liberation Sans" font-size="14.2" text-anchor="middle" transform="rotate(-45 329.3 341.0)" fill="#222">−5</text>
<text x="349.7" y="346.1" font-family="Liberation Sans" font-size="14.2" text-anchor="middle" transform="rotate(-45 349.7 341.0)" fill="#222">5</text>
<text x="370.2" y="346.1" font-family="Liberation Sans" font-size="14.2" text-anchor="middle" transform="rotate(-45 370.2 341.0)" fill="#222">10</text>
<text x="390.7" y="346.1" font-family="Liberation Sans" font-size="14.2" text-anchor="middle" transform="rotate(-45 390.7 341.0)" fill="#222">20</text>
<text x="411.1" y="346.1" font-family="Liberation Sans" font-size="14.2" text-anchor="middle" transform="rotate(-45 411.1 341.0)" fill="#222">30</text>
<text x="431.6" y="346.1" font-family="Liberation Sans" font-size="14.2" text-anchor="middle" transform="rotate(-45 431.6 341.0)" fill="#222">40</text>
<text x="452.1" y="346.1" font-family="Liberation Sans" font-size="14.2" text-anchor="middle" transform="rotate(-45 452.1 341.0)" fill="#222">50</text>
<text x="472.5" y="346.1" font-family="Liberation Sans" font-size="14.2" text-anchor="middle" transform="rotate(-45 472.5 341.0)" fill="#222">60</text>
<rect x="583.3" y="37.5" width="316.9" height="231.0" fill="#b3b3b3" stroke="#1a1a1a" stroke-width="1.2"/>
<rect x="586.5" y="40.6" width="307.5" height="219.8" fill="#e6002d"/>
<path fill="#ff2800" fill-rule="evenodd" d="M586.5 40.6L601.9 40.6L617.2 40.6L632.6 40.6L648 40.6L663.4 40.6L678.8 40.6L694.1 40.6L709.5 40.6L724.9 40.6L740.2 40.6L755.6 40.6L771 40.6L786.4 40.6L801.8 40.6L817.1 40.6L832.5 40.6L847.9 40.6L863.2 40.6L847.9 56.3L847.9 56.3L847.9 56.3L863.2 64.2L878.6 72L878.6 87.7L878.6 87.7L878.6 87.7L878.6 72L894 64.2L894 72L894 87.7L894 103.4L894 119.1L894 134.8L894 150.5L894 166.2L894 181.9L894 197.6L894 213.3L894 229L894 244.7L894 260.4L878.6 260.4L863.2 260.4L847.9 260.4L832.5 260.4L817.1 260.4L801.8 260.4L786.4 260.4L771 260.4L755.6 260.4L740.2 260.4L724.9 260.4L709.5 260.4L694.1 260.4L678.8 260.4L663.4 260.4L648 260.4L632.6 260.4L617.2 260.4L601.9 260.4L586.5 260.4L586.5 244.7L586.5 229L586.5 213.3L586.5 197.6L586.5 181.9L586.5 166.2L586.5 150.5L586.5 134.8L586.5 119.1L586.5 103.4L586.5 87.7L586.5 72L586.5 56.3ZM863.2 40.6L878.6 40.6L894 40.6L878.6 48.5Z"/>
<path fill="#ff5000" fill-rule="evenodd" d="M586.5 40.6L601.9 40.6L617.2 40.6L632.6 40.6L648 40.6L663.4 40.6L678.8 40.6L694.1 40.6L709.5 40.6L724.9 40.6L740.2 40.6L755.6 40.6L771 40.6L786.4 40.6L801.8 40.6L809.4 40.6L817.1 48.5L832.5 48.5L837.6 56.3L847.9 66.8L855.6 72L847.9 79.8L840.2 87.7L840.2 103.4L847.9 111.2L863.2 111.2L878.6 108.6L894 103.4L894 119.1L894 134.8L894 150.5L894 166.2L894 181.9L894 197.6L894 213.3L894 229L894 244.7L894 260.4L878.6 260.4L863.2 260.4L847.9 260.4L832.5 260.4L817.1 260.4L801.8 260.4L786.4 260.4L771 260.4L763.3 260.4L755.6 252.5L740.2 260.4L740.2 260.4L724.9 260.4L709.5 260.4L694.1 260.4L678.8 260.4L663.4 260.4L648 260.4L632.6 260.4L617.2 260.4L601.9 260.4L586.5 260.4L586.5 244.7L586.5 229L586.5 213.3L586.5 197.6L586.5 181.9L586.5 166.2L586.5 150.5L586.5 134.8L586.5 119.1L586.5 103.4L586.5 87.7L586.5 72L586.5 56.3Z"/>
<path fill="#ff8c00" fill-rule="evenodd" d="M586.5 40.6L601.9 40.6L617.2 40.6L632.6 40.6L648 40.6L663.4 40.6L678.8 40.6L694.1 40.6L709.5 40.6L724.9 40.6L740.2 40.6L755.6 40.6L771 40.6L781.3 40.6L786.4 48.5L801.8 48.5L809.4 56.3L801.8 64.2L794.1 72L801.8 87.7L801.8 87.7L809.4 103.4L809.4 119.1L817.1 123L832.5 124.3L847.9 123L863.2 121.7L878.6 119.1L878.6 119.1L894 113.9L894 119.1L894 134.8L894 150.5L894 166.2L894 181.9L894 181.9L878.6 189.8L863.2 197.6L863.2 197.6L863.2 197.6L878.6 205.4L894 197.6L894 213.3L894 229L894 244.7L894 260.4L878.6 260.4L863.2 260.4L847.9 260.4L832.5 260.4L817.1 260.4L801.8 260.4L786.4 260.4L778.7 260.4L778.7 244.7L771 236.8L755.6 236.8L740.2 229L740.2 229L740.2 229L724.9 236.8L717.2 244.7L724.9 252.5L730 260.4L724.9 260.4L709.5 260.4L694.1 260.4L678.8 260.4L663.4 260.4L648 260.4L632.6 260.4L617.2 260.4L601.9 260.4L586.5 260.4L586.5 244.7L586.5 229L586.5 213.3L586.5 197.6L586.5 181.9L586.5 166.2L586.5 150.5L586.5 134.8L586.5 119.1L586.5 103.4L586.5 87.7L586.5 72L586.5 56.3ZM663.4 244.7L663.4 244.7L663.4 244.7L663.4 244.7ZM809.4 72L817.1 64.2L832.5 72L817.1 79.8Z"/>
<path fill="#ffbe00" fill-rule="evenodd" d="M586.5 40.6L601.9 40.6L617.2 40.6L632.6 40.6L648 40.6L663.4 40.6L678.8 40.6L694.1 40.6L709.5 40.6L724.9 40.6L740.2 40.6L755.6 40.6L771 40.6L763.3 56.3L771 64.2L778.7 72L778.7 87.7L786.4 95.5L794.1 103.4L794.1 119.1L801.8 121.3L817.1 130.9L832.5 134.8L832.5 134.8L832.5 134.8L847.9 130.9L863.2 126.9L878.6 129.6L894 126.9L894 134.8L894 150.5L894 158.3L886.3 150.5L878.6 142.6L870.9 150.5L870.9 166.2L870.9 181.9L863.2 187.1L855.6 197.6L863.2 203.9L874.8 213.3L878.6 217.2L890.2 229L894 236.8L894 244.7L894 252.5L878.6 260.4L878.6 260.4L863.2 260.4L847.9 260.4L832.5 260.4L817.1 260.4L801.8 260.4L794.1 260.4L794.1 244.7L801.8 236.8L809.4 229L801.8 221.1L786.4 225.9L771 225.1L755.6 225.1L740.2 218.5L724.9 213.3L724.9 213.3L724.9 213.3L717.2 229L709.5 236.8L701.8 244.7L709.5 252.5L717.2 260.4L709.5 260.4L694.1 260.4L678.8 260.4L663.4 260.4L648 260.4L632.6 260.4L617.2 260.4L601.9 260.4L586.5 260.4L586.5 244.7L586.5 229L586.5 213.3L601.9 221.1L609.6 229L617.2 232.9L624.9 229L624.9 213.3L617.2 208.8L601.9 205.4L591.6 197.6L586.5 195.4L586.5 181.9L586.5 166.2L586.5 150.5L586.5 134.8L586.5 119.1L586.5 103.4L586.5 87.7L586.5 72L586.5 56.3ZM663.4 238.4L653.1 244.7L663.4 255.2L678.8 252.5L686.4 244.7L678.8 240.8ZM863.2 229L863.2 229L863.2 229L863.2 229Z"/>
<path fill="#e6f500" fill-rule="evenodd" d="M586.5 40.6L601.9 40.6L617.2 40.6L632.6 40.6L648 40.6L663.4 40.6L678.8 40.6L694.1 40.6L709.5 40.6L724.9 40.6L735.1 40.6L740.2 43.7L750.5 56.3L755.6 64.2L763.3 72L765.9 87.7L771 95.5L778.7 103.4L778.7 119.1L786.4 121.1L801.8 125.8L814.1 134.8L817.1 137.4L832.5 141.1L847.9 138.7L855.6 134.8L863.2 132.2L870.9 134.8L863.2 142.6L859.4 150.5L855.6 166.2L855.6 181.9L847.9 197.6L832.5 193.7L817.1 197.6L801.8 192.4L786.4 197.6L786.4 197.6L786.4 197.6L796.6 213.3L786.4 219.6L771 217.2L755.6 217.2L747.9 213.3L740.2 209.4L724.9 207L709.5 205.4L701.8 213.3L701.8 229L694.1 236.8L678.8 232.9L663.4 232.1L648 236.8L640.3 229L640.3 213.3L632.6 202.8L617.2 199.8L612.1 197.6L601.9 192.4L586.5 186.4L586.5 181.9L586.5 166.2L586.5 150.5L586.5 134.8L586.5 119.1L586.5 103.4L586.5 87.7L586.5 72L586.5 56.3ZM824.8 213.3L832.5 205.4L847.9 197.6L863.2 210.2L867.1 213.3L863.2 218.5L853 229L847.9 236.8L840.2 244.7L847.9 252.5L855.6 260.4L847.9 260.4L832.5 260.4L824.8 260.4L824.8 244.7L824.8 229ZM873.5 229L878.6 225.1L882.5 229L886.3 244.7L878.6 249.9L870.9 244.7ZM586.5 244.7L586.5 229L601.9 236.8L617.2 240.8L624.9 244.7L632.6 252.5L648 252.5L655.7 260.4L648 260.4L632.6 260.4L617.2 260.4L601.9 260.4L586.5 260.4Z"/>
<path fill="#50dc00" fill-rule="evenodd" d="M586.5 40.6L601.9 40.6L617.2 40.6L632.6 40.6L648 40.6L663.4 40.6L678.8 40.6L694.1 40.6L709.5 40.6L717.2 40.6L724.9 48.5L740.2 56.3L740.2 56.3L751.8 72L755.6 87.7L755.6 87.7L763.3 103.4L755.6 111.2L740.2 116L724.9 116.5L709.5 119.1L709.5 119.1L709.5 119.1L724.9 122.2L740.2 121.7L755.6 121.7L771 121.7L786.4 125L801.8 130.3L807.9 134.8L817.1 142.6L832.5 147.4L847.9 146.6L851.7 150.5L847.9 158.3L840.2 166.2L840.2 181.9L832.5 185.8L817.1 189.8L801.8 181.9L801.8 181.9L801.8 181.9L786.4 187.1L771 192.4L755.6 197.6L755.6 197.6L740.2 201.5L724.9 200.7L717.2 197.6L709.5 189.8L701.8 181.9L694.1 178L686.4 181.9L689 197.6L678.8 213.3L663.4 205.4L648 202.8L644.2 197.6L632.6 188.2L624.9 181.9L617.2 176.7L601.9 181.9L594.2 166.2L586.5 158.3L586.5 150.5L586.5 134.8L586.5 119.1L586.5 103.4L586.5 87.7L586.5 72L586.5 56.3ZM663.4 150.5L663.4 150.5L663.4 150.5L663.4 150.5ZM709.5 150.5L709.5 150.5L709.5 150.5L709.5 150.5ZM840.2 213.3L847.9 208.1L855.6 213.3L847.9 221.1Z"/>
<path fill="#00be00" fill-rule="evenodd" d="M586.5 40.6L601.9 40.6L617.2 40.6L632.6 40.6L648 40.6L663.4 40.6L678.8 40.6L689 40.6L694.1 48.5L709.5 56.3L709.5 56.3L724.9 60.2L740.2 66.8L744.1 72L745.4 87.7L750.5 103.4L740.2 109.7L724.9 111.2L709.5 112.8L694.1 115.2L689 119.1L694.1 123L705.7 134.8L694.1 146.6L678.8 146.6L663.4 142.6L648 142.6L640.3 134.8L632.6 126.9L617.2 130.9L609.6 134.8L601.9 142.6L586.5 142.6L586.5 134.8L586.5 126.9L594.2 119.1L586.5 111.2L586.5 103.4L586.5 87.7L586.5 72L586.5 56.3ZM663.4 119.1L663.4 119.1L663.4 119.1L663.4 119.1ZM714.6 134.8L724.9 128.5L740.2 126.9L755.6 126.9L771 126.9L786.4 128.9L801.8 134.8L801.8 134.8L817.1 147.9L824.8 150.5L824.8 166.2L817.1 181.9L801.8 174L786.4 178L771 181.9L771 181.9L755.6 187.1L740.2 189.8L724.9 189.8L717.2 181.9L709.5 174L694.1 170.1L678.8 174L663.4 178L655.7 181.9L648 188.2L640.3 181.9L632.6 174L617.2 166.2L617.2 166.2L609.6 150.5L617.2 142.6L624.9 150.5L632.6 158.3L648 154.4L663.4 156.8L678.8 158.3L694.1 158.3L709.5 161L715.6 150.5Z"/>
<path fill="#00961e" fill-rule="evenodd" d="M586.5 40.6L601.9 40.6L617.2 40.6L624.9 40.6L632.6 48.5L648 48.5L663.4 48.5L678.8 40.6L686.4 56.3L694.1 60.2L709.5 61.5L724.9 68.1L732.6 72L732.6 87.7L740.2 103.4L724.9 106L709.5 106.5L694.1 107.3L678.8 119.1L663.4 103.4L663.4 103.4L663.4 103.4L648 119.1L632.6 111.2L624.9 119.1L617.2 123L609.6 119.1L609.6 103.4L601.9 95.5L586.5 95.5L586.5 87.7L586.5 72L586.5 56.3ZM632.6 64.2L624.9 72L632.6 79.8L648 79.8L655.7 72L648 64.2ZM663.4 134.8L678.8 119.1L694.1 130.9L698 134.8L694.1 138.7L678.8 138.7ZM724.9 134.8L740.2 132.2L755.6 132.2L771 132.2L786.4 132.8L791.5 134.8L801.8 145.3L809.4 150.5L801.8 166.2L801.8 166.2L786.4 170.1L771 171.4L755.6 174L740.2 174L724.9 174L717.2 166.2L721.8 150.5L724.9 134.8ZM640.3 166.2L648 162.3L663.4 163.1L671.1 166.2L663.4 170.1L648 174Z"/>
<path fill="#00824b" fill-rule="evenodd" d="M686.4 72L694.1 68.1L709.5 66.8L719.8 72L721 87.7L709.5 99.5L694.1 98.2L683.9 87.7Z"/>
<path fill="#00508c" fill-rule="evenodd" d="M694.1 87.7L709.5 72L713.3 87.7L709.5 91.6Z"/>
<rect x="680.4" y="116.2" width="1.6" height="1.6" fill="#000"/>
<rect x="677.7" y="119.4" width="1.6" height="1.6" fill="#000"/>
<rect x="682.7" y="122.7" width="1.6" height="1.6" fill="#000"/>
<rect x="670.2" y="124.5" width="1.6" height="1.6" fill="#000"/>
<rect x="670.2" y="129.4" width="1.6" height="1.6" fill="#000"/>
<rect x="682.0" y="128.0" width="1.6" height="1.6" fill="#000"/>
<rect x="686.2" y="127.2" width="1.6" height="1.6" fill="#000"/>
<rect x="691.2" y="127.9" width="1.6" height="1.6" fill="#000"/>
<rect x="682.7" y="131.7" width="1.6" height="1.6" fill="#000"/>
<rect x="687.7" y="131.7" width="1.6" height="1.6" fill="#000"/>
<rect x="669.2" y="133.9" width="1.6" height="1.6" fill="#000"/>
<rect x="677.4" y="136.0" width="1.6" height="1.6" fill="#000"/>
<rect x="682.0" y="136.0" width="1.6" height="1.6" fill="#000"/>
<rect x="686.0" y="135.0" width="1.6" height="1.6" fill="#000"/>
<rect x="672.7" y="137.2" width="1.6" height="1.6" fill="#000"/>
<rect x="679.7" y="139.5" width="1.6" height="1.6" fill="#000"/>
<rect x="690.7" y="137.7" width="1.6" height="1.6" fill="#000"/>
<rect x="694.4" y="142.2" width="1.6" height="1.6" fill="#000"/>
<rect x="700.0" y="142.2" width="1.6" height="1.6" fill="#000"/>
<rect x="713.3" y="141.4" width="1.6" height="1.6" fill="#000"/>
<rect x="716.3" y="141.4" width="1.6" height="1.6" fill="#000"/>
<rect x="714.1" y="147.4" width="1.6" height="1.6" fill="#000"/>
<rect x="716.1" y="147.4" width="1.6" height="1.6" fill="#000"/>
<rect x="719.4" y="127.9" width="1.6" height="1.6" fill="#000"/>
<rect x="723.1" y="127.2" width="1.6" height="1.6" fill="#000"/>
<rect x="724.1" y="133.5" width="1.6" height="1.6" fill="#000"/>
<rect x="719.6" y="136.2" width="1.6" height="1.6" fill="#000"/>
<rect x="765.7" y="125.7" width="1.6" height="1.6" fill="#000"/>
<rect x="770.2" y="125.7" width="1.6" height="1.6" fill="#000"/>
<rect x="774.6" y="125.7" width="1.6" height="1.6" fill="#000"/>
<rect x="780.1" y="127.0" width="1.6" height="1.6" fill="#000"/>
<rect x="785.3" y="127.0" width="1.6" height="1.6" fill="#000"/>
<rect x="762.7" y="129.7" width="1.6" height="1.6" fill="#000"/>
<rect x="767.2" y="129.7" width="1.6" height="1.6" fill="#000"/>
<rect x="772.0" y="129.2" width="1.6" height="1.6" fill="#000"/>
<rect x="783.1" y="131.0" width="1.6" height="1.6" fill="#000"/>
<rect x="788.1" y="131.0" width="1.6" height="1.6" fill="#000"/>
<rect x="736.2" y="134.5" width="1.6" height="1.6" fill="#000"/>
<rect x="741.2" y="134.5" width="1.6" height="1.6" fill="#000"/>
<rect x="745.4" y="132.2" width="1.6" height="1.6" fill="#000"/>
<rect x="748.0" y="136.0" width="1.6" height="1.6" fill="#000"/>
<rect x="764.7" y="135.0" width="1.6" height="1.6" fill="#000"/>
<rect x="772.0" y="134.0" width="1.6" height="1.6" fill="#000"/>
<rect x="780.6" y="134.2" width="1.6" height="1.6" fill="#000"/>
<rect x="785.3" y="134.2" width="1.6" height="1.6" fill="#000"/>
<rect x="789.9" y="134.4" width="1.6" height="1.6" fill="#000"/>
<rect x="795.3" y="133.4" width="1.6" height="1.6" fill="#000"/>
<rect x="761.2" y="138.2" width="1.6" height="1.6" fill="#000"/>
<rect x="768.5" y="138.2" width="1.6" height="1.6" fill="#000"/>
<rect x="773.2" y="138.0" width="1.6" height="1.6" fill="#000"/>
<rect x="782.9" y="138.5" width="1.6" height="1.6" fill="#000"/>
<rect x="787.7" y="138.5" width="1.6" height="1.6" fill="#000"/>
<rect x="736.2" y="141.0" width="1.6" height="1.6" fill="#000"/>
<rect x="756.4" y="140.5" width="1.6" height="1.6" fill="#000"/>
<rect x="766.2" y="142.0" width="1.6" height="1.6" fill="#000"/>
<rect x="771.0" y="142.0" width="1.6" height="1.6" fill="#000"/>
<rect x="780.6" y="142.7" width="1.6" height="1.6" fill="#000"/>
<rect x="785.3" y="142.7" width="1.6" height="1.6" fill="#000"/>
<rect x="789.9" y="142.7" width="1.6" height="1.6" fill="#000"/>
<rect x="808.1" y="142.9" width="1.6" height="1.6" fill="#000"/>
<rect x="752.5" y="145.5" width="1.6" height="1.6" fill="#000"/>
<rect x="763.5" y="145.7" width="1.6" height="1.6" fill="#000"/>
<rect x="768.5" y="145.7" width="1.6" height="1.6" fill="#000"/>
<rect x="773.2" y="146.0" width="1.6" height="1.6" fill="#000"/>
<rect x="778.1" y="146.2" width="1.6" height="1.6" fill="#000"/>
<rect x="783.1" y="146.2" width="1.6" height="1.6" fill="#000"/>
<rect x="787.7" y="146.2" width="1.6" height="1.6" fill="#000"/>
<rect x="745.2" y="149.9" width="1.6" height="1.6" fill="#000"/>
<rect x="755.0" y="149.7" width="1.6" height="1.6" fill="#000"/>
<rect x="760.7" y="150.2" width="1.6" height="1.6" fill="#000"/>
<rect x="766.0" y="149.7" width="1.6" height="1.6" fill="#000"/>
<rect x="781.6" y="151.4" width="1.6" height="1.6" fill="#000"/>
<rect x="785.6" y="151.4" width="1.6" height="1.6" fill="#000"/>
<rect x="790.6" y="149.9" width="1.6" height="1.6" fill="#000"/>
<rect x="798.9" y="149.9" width="1.6" height="1.6" fill="#000"/>
<rect x="803.6" y="149.9" width="1.6" height="1.6" fill="#000"/>
<rect x="746.4" y="155.5" width="1.6" height="1.6" fill="#000"/>
<rect x="755.7" y="155.2" width="1.6" height="1.6" fill="#000"/>
<rect x="769.0" y="155.5" width="1.6" height="1.6" fill="#000"/>
<rect x="772.9" y="156.0" width="1.6" height="1.6" fill="#000"/>
<rect x="778.9" y="154.4" width="1.6" height="1.6" fill="#000"/>
<rect x="803.9" y="157.9" width="1.6" height="1.6" fill="#000"/>
<rect x="811.6" y="156.9" width="1.6" height="1.6" fill="#000"/>
<rect x="743.5" y="159.2" width="1.6" height="1.6" fill="#000"/>
<rect x="748.5" y="159.2" width="1.6" height="1.6" fill="#000"/>
<rect x="753.2" y="159.4" width="1.6" height="1.6" fill="#000"/>
<rect x="757.9" y="159.2" width="1.6" height="1.6" fill="#000"/>
<rect x="761.2" y="159.2" width="1.6" height="1.6" fill="#000"/>
<rect x="746.4" y="163.9" width="1.6" height="1.6" fill="#000"/>
<rect x="751.5" y="163.9" width="1.6" height="1.6" fill="#000"/>
<rect x="755.7" y="163.0" width="1.6" height="1.6" fill="#000"/>
<rect x="760.2" y="163.0" width="1.6" height="1.6" fill="#000"/>
<rect x="764.7" y="163.2" width="1.6" height="1.6" fill="#000"/>
<rect x="772.0" y="163.0" width="1.6" height="1.6" fill="#000"/>
<rect x="781.9" y="163.4" width="1.6" height="1.6" fill="#000"/>
<rect x="790.9" y="164.4" width="1.6" height="1.6" fill="#000"/>
<rect x="795.3" y="164.4" width="1.6" height="1.6" fill="#000"/>
<rect x="800.6" y="164.4" width="1.6" height="1.6" fill="#000"/>
<rect x="805.1" y="164.4" width="1.6" height="1.6" fill="#000"/>
<rect x="813.9" y="162.9" width="1.6" height="1.6" fill="#000"/>
<rect x="734.7" y="167.1" width="1.6" height="1.6" fill="#000"/>
<rect x="739.2" y="167.1" width="1.6" height="1.6" fill="#000"/>
<rect x="744.2" y="166.8" width="1.6" height="1.6" fill="#000"/>
<rect x="748.7" y="166.8" width="1.6" height="1.6" fill="#000"/>
<rect x="753.7" y="167.8" width="1.6" height="1.6" fill="#000"/>
<rect x="758.2" y="167.8" width="1.6" height="1.6" fill="#000"/>
<rect x="762.7" y="167.8" width="1.6" height="1.6" fill="#000"/>
<rect x="766.0" y="167.8" width="1.6" height="1.6" fill="#000"/>
<rect x="803.4" y="169.3" width="1.6" height="1.6" fill="#000"/>
<rect x="737.7" y="170.6" width="1.6" height="1.6" fill="#000"/>
<rect x="745.4" y="169.8" width="1.6" height="1.6" fill="#000"/>
<rect x="783.1" y="170.6" width="1.6" height="1.6" fill="#000"/>
<rect x="794.9" y="170.9" width="1.6" height="1.6" fill="#000"/>
<rect x="773.9" y="175.8" width="1.6" height="1.6" fill="#000"/>
<rect x="777.4" y="175.8" width="1.6" height="1.6" fill="#000"/>
<rect x="786.1" y="175.8" width="1.6" height="1.6" fill="#000"/>
<rect x="790.9" y="175.8" width="1.6" height="1.6" fill="#000"/>
<rect x="802.1" y="176.1" width="1.6" height="1.6" fill="#000"/>
<rect x="806.9" y="176.1" width="1.6" height="1.6" fill="#000"/>
<rect x="811.6" y="176.1" width="1.6" height="1.6" fill="#000"/>
<rect x="760.2" y="179.1" width="1.6" height="1.6" fill="#000"/>
<rect x="764.7" y="179.1" width="1.6" height="1.6" fill="#000"/>
<rect x="589.2" y="234.0" width="27.6" height="28.6" fill="#fff"/>
<text x="603.0" y="257.0" font-family="Liberation Serif" font-size="24.0" text-anchor="middle" fill="#333">b</text>
<text x="613.0" y="22.9" font-family="Liberation Sans" font-weight="bold" font-size="17.7" textLength="257.4" lengthAdjust="spacingAndGlyphs" fill="#000">Mean Elevation [m] = 359.208</text>
<line x1="576.0" y1="40.4" x2="583.3" y2="40.4" stroke="#222" stroke-width="1"/>
<text x="569.9" y="44.1" font-family="Liberation Serif" font-size="11.2" text-anchor="end" textLength="39.5" lengthAdjust="spacingAndGlyphs" fill="#1a1a1a">42°46'N</text>
<line x1="576.0" y1="66.9" x2="583.3" y2="66.9" stroke="#222" stroke-width="1"/>
<text x="569.9" y="70.6" font-family="Liberation Serif" font-size="11.2" text-anchor="end" textLength="39.5" lengthAdjust="spacingAndGlyphs" fill="#1a1a1a">42°44'N</text>
<line x1="576.0" y1="93.4" x2="583.3" y2="93.4" stroke="#222" stroke-width="1"/>
<text x="569.9" y="97.1" font-family="Liberation Serif" font-size="11.2" text-anchor="end" textLength="39.5" lengthAdjust="spacingAndGlyphs" fill="#1a1a1a">42°42'N</text>
<line x1="576.0" y1="119.9" x2="583.3" y2="119.9" stroke="#222" stroke-width="1"/>
<text x="569.9" y="123.6" font-family="Liberation Serif" font-size="11.2" text-anchor="end" textLength="39.5" lengthAdjust="spacingAndGlyphs" fill="#1a1a1a">42°40'N</text>
<line x1="576.0" y1="146.4" x2="583.3" y2="146.4" stroke="#222" stroke-width="1"/>
<text x="569.9" y="150.1" font-family="Liberation Serif" font-size="11.2" text-anchor="end" textLength="39.5" lengthAdjust="spacingAndGlyphs" fill="#1a1a1a">42°38'N</text>
<line x1="576.0" y1="172.9" x2="583.3" y2="172.9" stroke="#222" stroke-width="1"/>
<text x="569.9" y="176.6" font-family="Liberation Serif" font-size="11.2" text-anchor="end" textLength="39.5" lengthAdjust="spacingAndGlyphs" fill="#1a1a1a">42°36'N</text>
<line x1="576.0" y1="199.4" x2="583.3" y2="199.4" stroke="#222" stroke-width="1"/>
<text x="569.9" y="203.1" font-family="Liberation Serif" font-size="11.2" text-anchor="end" textLength="39.5" lengthAdjust="spacingAndGlyphs" fill="#1a1a1a">42°34'N</text>
<line x1="576.0" y1="225.9" x2="583.3" y2="225.9" stroke="#222" stroke-width="1"/>
<text x="569.9" y="229.6" font-family="Liberation Serif" font-size="11.2" text-anchor="end" textLength="39.5" lengthAdjust="spacingAndGlyphs" fill="#1a1a1a">42°32'N</text>
<line x1="576.0" y1="252.4" x2="583.3" y2="252.4" stroke="#222" stroke-width="1"/>
<text x="569.9" y="256.1" font-family="Liberation Serif" font-size="11.2" text-anchor="end" textLength="39.5" lengthAdjust="spacingAndGlyphs" fill="#1a1a1a">42°30'N</text>
<line x1="594.7" y1="267.9" x2="594.7" y2="274.7" stroke="#222" stroke-width="1"/>
<text x="594.7" y="287.7" font-family="Liberation Serif" font-size="11.2" text-anchor="middle" textLength="40.0" lengthAdjust="spacingAndGlyphs" fill="#1a1a1a">93°25'W</text>
<line x1="666.0" y1="267.9" x2="666.0" y2="274.7" stroke="#222" stroke-width="1"/>
<text x="666.0" y="287.7" font-family="Liberation Serif" font-size="11.2" text-anchor="middle" textLength="40.0" lengthAdjust="spacingAndGlyphs" fill="#1a1a1a">93°20'W</text>
<line x1="737.3" y1="267.9" x2="737.3" y2="274.7" stroke="#222" stroke-width="1"/>
<text x="737.3" y="287.7" font-family="Liberation Serif" font-size="11.2" text-anchor="middle" textLength="40.0" lengthAdjust="spacingAndGlyphs" fill="#1a1a1a">93°15'W</text>
<line x1="808.6" y1="267.9" x2="808.6" y2="274.7" stroke="#222" stroke-width="1"/>
<text x="808.6" y="287.7" font-family="Liberation Serif" font-size="11.2" text-anchor="middle" textLength="40.0" lengthAdjust="spacingAndGlyphs" fill="#1a1a1a">93°10'W</text>
<line x1="879.9" y1="267.9" x2="879.9" y2="274.7" stroke="#222" stroke-width="1"/>
<text x="879.9" y="287.7" font-family="Liberation Serif" font-size="11.2" text-anchor="middle" textLength="34.3" lengthAdjust="spacingAndGlyphs" fill="#1a1a1a">93°5'W</text>
<rect x="586.50" y="293.2" width="20.67" height="20.6" fill="#910069"/>
<rect x="607.17" y="293.2" width="20.67" height="20.6" fill="#c80046"/>
<rect x="627.83" y="293.2" width="20.67" height="20.6" fill="#e6002d"/>
<rect x="648.50" y="293.2" width="20.67" height="20.6" fill="#ff2800"/>
<rect x="669.17" y="293.2" width="20.67" height="20.6" fill="#ff5000"/>
<rect x="689.83" y="293.2" width="20.67" height="20.6" fill="#ff8c00"/>
<rect x="710.50" y="293.2" width="20.67" height="20.6" fill="#ffbe00"/>
<rect x="731.17" y="293.2" width="20.67" height="20.6" fill="#e6f500"/>
<rect x="751.83" y="293.2" width="20.67" height="20.6" fill="#50dc00"/>
<rect x="772.50" y="293.2" width="20.67" height="20.6" fill="#00be00"/>
<rect x="793.17" y="293.2" width="20.67" height="20.6" fill="#00961e"/>
<rect x="813.83" y="293.2" width="20.67" height="20.6" fill="#00824b"/>
<rect x="834.50" y="293.2" width="20.67" height="20.6" fill="#00508c"/>
<rect x="855.17" y="293.2" width="20.67" height="20.6" fill="#0a32b4"/>
<rect x="875.83" y="293.2" width="20.67" height="20.6" fill="#0000ff"/>
<line x1="607.17" y1="293.2" x2="607.17" y2="313.8" stroke="#222" stroke-width="0.8"/>
<line x1="627.83" y1="293.2" x2="627.83" y2="313.8" stroke="#222" stroke-width="0.8"/>
<line x1="648.50" y1="293.2" x2="648.50" y2="313.8" stroke="#222" stroke-width="0.8"/>
<line x1="669.17" y1="293.2" x2="669.17" y2="313.8" stroke="#222" stroke-width="0.8"/>
<line x1="689.83" y1="293.2" x2="689.83" y2="313.8" stroke="#222" stroke-width="0.8"/>
<line x1="710.50" y1="293.2" x2="710.50" y2="313.8" stroke="#222" stroke-width="0.8"/>
<line x1="731.17" y1="293.2" x2="731.17" y2="313.8" stroke="#222" stroke-width="0.8"/>
<line x1="751.83" y1="293.2" x2="751.83" y2="313.8" stroke="#222" stroke-width="0.8"/>
<line x1="772.50" y1="293.2" x2="772.50" y2="313.8" stroke="#222" stroke-width="0.8"/>
<line x1="793.17" y1="293.2" x2="793.17" y2="313.8" stroke="#222" stroke-width="0.8"/>
<line x1="813.83" y1="293.2" x2="813.83" y2="313.8" stroke="#222" stroke-width="0.8"/>
<line x1="834.50" y1="293.2" x2="834.50" y2="313.8" stroke="#222" stroke-width="0.8"/>
<line x1="855.17" y1="293.2" x2="855.17" y2="313.8" stroke="#222" stroke-width="0.8"/>
<line x1="875.83" y1="293.2" x2="875.83" y2="313.8" stroke="#222" stroke-width="0.8"/>
<rect x="586.5" y="293.2" width="310.0" height="20.6" fill="none" stroke="#222" stroke-width="0.9"/>
<text x="607.2" y="336.8" font-family="Liberation Sans" font-size="14.8" text-anchor="middle" transform="rotate(-45 607.2 331.5)" fill="#222">−60</text>
<text x="627.8" y="336.8" font-family="Liberation Sans" font-size="14.8" text-anchor="middle" transform="rotate(-45 627.8 331.5)" fill="#222">−50</text>
<text x="648.5" y="336.8" font-family="Liberation Sans" font-size="14.8" text-anchor="middle" transform="rotate(-45 648.5 331.5)" fill="#222">−40</text>
<text x="669.2" y="336.8" font-family="Liberation Sans" font-size="14.8" text-anchor="middle" transform="rotate(-45 669.2 331.5)" fill="#222">−30</text>
<text x="689.8" y="336.8" font-family="Liberation Sans" font-size="14.8" text-anchor="middle" transform="rotate(-45 689.8 331.5)" fill="#222">−20</text>
<text x="710.5" y="336.8" font-family="Liberation Sans" font-size="14.8" text-anchor="middle" transform="rotate(-45 710.5 331.5)" fill="#222">−10</text>
<text x="731.2" y="336.8" font-family="Liberation Sans" font-size="14.8" text-anchor="middle" transform="rotate(-45 731.2 331.5)" fill="#222">−5</text>
<text x="751.8" y="336.8" font-family="Liberation Sans" font-size="14.8" text-anchor="middle" transform="rotate(-45 751.8 331.5)" fill="#222">5</text>
<text x="772.5" y="336.8" font-family="Liberation Sans" font-size="14.8" text-anchor="middle" transform="rotate(-45 772.5 331.5)" fill="#222">10</text>
<text x="793.2" y="336.8" font-family="Liberation Sans" font-size="14.8" text-anchor="middle" transform="rotate(-45 793.2 331.5)" fill="#222">20</text>
<text x="813.8" y="336.8" font-family="Liberation Sans" font-size="14.8" text-anchor="middle" transform="rotate(-45 813.8 331.5)" fill="#222">30</text>
<text x="834.5" y="336.8" font-family="Liberation Sans" font-size="14.8" text-anchor="middle" transform="rotate(-45 834.5 331.5)" fill="#222">40</text>
<text x="855.2" y="336.8" font-family="Liberation Sans" font-size="14.8" text-anchor="middle" transform="rotate(-45 855.2 331.5)" fill="#222">50</text>
<text x="875.8" y="336.8" font-family="Liberation Sans" font-size="14.8" text-anchor="middle" transform="rotate(-45 875.8 331.5)" fill="#222">60</text>
<rect x="53.2" y="391.0" width="249.8" height="262.3" fill="#b3b3b3" stroke="#1a1a1a" stroke-width="1.2"/>
<rect x="56.2" y="393.8" width="240.8" height="256.9" fill="#ff5000"/>
<path fill="#ff8c00" fill-rule="evenodd" d="M56.2 393.8L71.2 393.8L86.3 393.8L101.4 393.8L116.4 393.8L131.4 393.8L146.5 393.8L161.6 393.8L176.6 393.8L191.7 393.8L206.7 393.8L221.8 393.8L236.8 393.8L251.9 393.8L266.9 393.8L281.9 393.8L297 393.8L297 408.9L297 422.1L289.5 424L297 426.5L297 439.1L297 454.2L297 469.4L297 484.5L297 484.5L289.5 499.6L281.9 507.1L266.9 511.7L259.4 514.7L266.9 517.7L281.9 522.2L289.5 529.8L289.5 544.9L281.9 552.5L274.4 560L281.9 575.1L274.4 590.3L281.9 592.1L297 594L297 605.4L297 620.5L297 635.6L297 650.7L281.9 650.7L266.9 650.7L251.9 650.7L236.8 650.7L221.8 650.7L206.7 650.7L191.7 650.7L184.1 650.7L191.7 643.1L199.2 635.6L191.7 620.5L191.7 620.5L184.1 605.4L184.1 590.3L176.6 582.7L161.6 582.7L154 590.3L154 605.4L146.5 612.9L131.4 612.9L116.4 612.9L108.9 605.4L101.4 597.8L93.8 590.3L86.3 575.1L86.3 575.1L86.3 575.1L71.2 582.7L56.2 575.1L63.7 560L63.7 544.9L71.2 529.8L71.2 529.8L71.2 529.8L63.7 514.7L56.2 507.1L56.2 499.6L56.2 484.5L56.2 469.4L56.2 454.2L56.2 439.1L56.2 424L56.2 408.9ZM251.9 541.1L244.3 544.9L251.9 548.7L266.9 544.9L266.9 544.9L266.9 544.9Z"/>
<path fill="#ffbe00" fill-rule="evenodd" d="M56.2 393.8L71.2 393.8L86.3 393.8L101.4 393.8L116.4 393.8L131.4 393.8L146.5 393.8L161.6 393.8L176.6 393.8L191.7 393.8L206.7 393.8L221.8 393.8L236.8 393.8L251.9 393.8L266.9 393.8L281.9 393.8L297 393.8L297 408.9L297 418.4L281.9 408.9L281.9 408.9L281.9 408.9L276.9 424L281.9 425.9L297 431.6L297 439.1L297 454.2L297 465.9L285.7 469.4L281.9 474.4L278.2 484.5L276.9 499.6L266.9 505.6L251.9 510.9L240.6 499.6L236.8 497.1L221.8 499.6L221.8 499.6L221.8 499.6L236.8 514.7L231.8 529.8L229.3 544.9L236.8 547.9L251.9 556.3L259.4 560L266.9 567.6L271.9 575.1L266.9 582.7L259.4 590.3L266.9 594L281.9 595.9L297 601.6L297 605.4L297 620.5L297 635.6L297 650.7L281.9 650.7L266.9 650.7L251.9 650.7L236.8 650.7L229.3 650.7L221.8 643.1L214.2 635.6L214.2 620.5L206.7 612.9L199.2 605.4L199.2 590.3L191.7 582.7L184.1 575.1L176.6 571.4L161.6 571.4L154 575.1L146.5 582.7L139 590.3L131.4 597.8L123.9 590.3L116.4 585.2L101.4 575.1L101.4 575.1L93.8 560L86.3 552.5L78.8 544.9L86.3 529.8L86.3 529.8L86.3 529.8L78.8 514.7L71.2 499.6L71.2 499.6L56.2 495.8L56.2 484.5L56.2 469.4L56.2 454.2L56.2 439.1L56.2 424L56.2 408.9ZM116.4 544.9L116.4 544.9L116.4 544.9L131.4 552.5L146.5 560L146.5 560L146.5 560L146.5 544.9L146.5 544.9L131.4 541.1ZM236.8 421.9L233 424L236.8 426.2L239 424ZM131.4 575.1L131.4 575.1L131.4 575.1L131.4 575.1ZM244.3 529.8L251.9 522.2L266.9 523.8L276.9 529.8L266.9 537.4L251.9 533.6ZM199.2 650.7L206.7 643.1L214.2 650.7L206.7 650.7Z"/>
<path fill="#e6f500" fill-rule="evenodd" d="M56.2 393.8L71.2 393.8L86.3 393.8L101.4 393.8L116.4 393.8L131.4 393.8L146.5 393.8L161.6 393.8L176.6 393.8L191.7 393.8L206.7 393.8L221.8 393.8L236.8 393.8L236.8 393.8L236.8 393.8L251.9 393.8L266.9 393.8L281.9 393.8L297 393.8L297 408.9L297 414.6L288 408.9L281.9 405.6L266.9 406.4L259.4 408.9L266.9 424L266.9 424L281.9 429.7L297 436.6L297 439.1L297 454.2L297 461.2L281.9 465.2L266.9 467.2L264.4 469.4L266.9 476.9L270.7 484.5L266.9 499.6L266.9 499.6L251.9 503.4L248.1 499.6L236.8 492L221.8 489.5L214.2 499.6L218 514.7L221.8 529.8L214.2 544.9L221.8 552.5L236.8 554L246.8 560L244.3 575.1L244.3 590.3L251.9 597.8L266.9 601.6L281.9 599.7L293.2 605.4L289.5 620.5L289.5 635.6L281.9 643.1L274.4 650.7L266.9 650.7L251.9 650.7L244.3 650.7L236.8 643.1L229.3 635.6L229.3 620.5L221.8 612.9L214.2 605.4L214.2 590.3L206.7 582.7L199.2 575.1L191.7 571.4L176.6 563.8L161.6 563.8L156.5 560L156.5 544.9L146.5 534.8L131.4 533.6L123.9 529.8L116.4 522.2L108.9 529.8L106.4 544.9L101.4 552.5L93.8 544.9L96.3 529.8L93.8 514.7L86.3 509.7L78.8 499.6L71.2 489.5L56.2 488.2L56.2 484.5L56.2 469.4L56.2 454.2L56.2 439.1L56.2 424L56.2 408.9ZM236.8 417.5L225.5 424L236.8 430.5L243.2 424ZM251.9 439.1L251.9 439.1L251.9 439.1L251.9 439.1Z"/>
<path fill="#50dc00" fill-rule="evenodd" d="M56.2 393.8L71.2 393.8L86.3 393.8L101.4 393.8L116.4 393.8L131.4 393.8L146.5 393.8L161.6 393.8L176.6 393.8L191.7 393.8L206.7 393.8L221.8 393.8L226.8 393.8L236.8 401.4L246.8 408.9L236.8 413.2L221.8 420.2L206.7 420.2L202.9 424L206.7 431.6L221.8 427.8L236.8 434.8L244.3 439.1L251.9 444.2L266.9 439.1L266.9 439.1L281.9 433.5L293.2 439.1L297 446.7L297 454.2L297 456.6L281.9 459.7L266.9 462.9L259.4 469.4L263.1 484.5L251.9 495.8L236.8 487L229.3 484.5L226.8 469.4L221.8 454.2L221.8 454.2L206.7 446.7L191.7 450.5L186.6 454.2L191.7 457.3L206.7 464.3L211.7 469.4L206.7 474.4L202.9 484.5L206.7 499.6L206.7 499.6L210.5 514.7L211.7 529.8L206.7 537.4L199.2 544.9L206.7 552.5L214.2 560L206.7 567.6L191.7 563.8L184.1 560L176.6 552.5L169.1 544.9L176.6 529.8L176.6 529.8L176.6 529.8L161.6 526L146.5 514.7L146.5 514.7L131.4 512.2L116.4 511.7L101.4 509.7L86.3 499.6L86.3 499.6L78.8 484.5L71.2 479.4L61.2 469.4L56.2 465.6L56.2 454.2L56.2 439.1L56.2 424L56.2 408.9ZM191.7 408.9L191.7 408.9L191.7 408.9L191.7 408.9ZM251.9 393.8L266.9 393.8L281.9 393.8L297 393.8L297 408.9L297 410.8L294 408.9L281.9 402.2L266.9 401.4ZM247.6 424L251.9 413.9L259.4 424L251.9 431.6ZM214.2 575.1L221.8 567.6L229.3 575.1L221.8 582.7ZM274.4 605.4L281.9 603.5L285.7 605.4L281.9 612.9ZM259.4 635.6L266.9 628L274.4 635.6L266.9 643.1Z"/>
<path fill="#00be00" fill-rule="evenodd" d="M56.2 393.8L71.2 393.8L86.3 393.8L101.4 393.8L116.4 393.8L131.4 393.8L146.5 393.8L161.6 393.8L176.6 393.8L176.6 393.8L176.6 393.8L191.7 393.8L206.7 393.8L214.2 393.8L221.8 401.4L236.8 408.9L221.8 412.7L206.7 412.7L201.7 408.9L191.7 398.8L185.6 408.9L191.7 419L195.4 424L199.2 439.1L191.7 442.9L176.6 439.1L176.6 439.1L176.6 439.1L176.6 454.2L176.6 454.2L191.7 463.3L200.2 469.4L195.4 484.5L196.7 499.6L199.2 514.7L191.7 522.2L176.6 523.8L161.6 518.5L156.5 514.7L146.5 509.7L131.4 507.1L116.4 505.6L101.4 499.6L101.4 499.6L91.3 484.5L86.3 480.7L71.2 469.4L71.2 469.4L56.2 458L56.2 454.2L56.2 439.1L56.2 424L56.2 408.9ZM261.9 393.8L266.9 393.8L281.9 393.8L297 393.8L281.9 398.8L266.9 396.3ZM214.2 439.1L221.8 435.4L236.8 439.1L221.8 444.2ZM276.9 439.1L281.9 437.2L285.7 439.1L281.9 454.2L281.9 454.2L266.9 458.6L254.4 469.4L255.6 484.5L251.9 488.2L244.3 484.5L236.8 469.4L236.8 469.4L231.8 454.2L236.8 439.1L251.9 449.2L266.9 446.7Z"/>
<path fill="#00961e" fill-rule="evenodd" d="M56.2 393.8L71.2 393.8L86.3 393.8L101.4 393.8L116.4 393.8L131.4 393.8L146.5 393.8L146.5 393.8L161.6 401.4L176.6 403.9L179.6 408.9L184.1 424L176.6 429.1L169.1 424L161.6 416.5L154 424L154 439.1L161.6 446.7L166.6 454.2L176.6 466.3L191.7 469.4L184.1 484.5L184.1 499.6L184.1 514.7L176.6 517.7L169.1 514.7L161.6 507.1L146.5 504.6L131.4 502.1L116.4 499.6L116.4 499.6L101.4 484.5L101.4 484.5L86.3 473.1L81.3 469.4L71.2 459.3L63.7 454.2L56.2 446.7L56.2 439.1L56.2 424L56.2 408.9ZM274.4 393.8L281.9 393.8L287 393.8L281.9 395.5Z"/>
<path fill="#00824b" fill-rule="evenodd" d="M56.2 393.8L63.7 393.8L56.2 401.4ZM63.7 408.9L71.2 401.4L86.3 401.4L101.4 401.4L108.9 393.8L116.4 393.8L123.9 393.8L131.4 408.9L123.9 424L131.4 431.6L139 439.1L146.5 446.7L154 454.2L154 469.4L154 484.5L146.5 499.6L131.4 492L123.9 484.5L116.4 476.9L101.3 474.4L93.8 469.4L86.3 461.8L78.8 454.2L78.8 439.1L71.2 431.6L63.7 424Z"/>
<path fill="#00508c" fill-rule="evenodd" d="M78.8 424L86.3 416.5L101.4 416.5L108.9 424L116.4 439.1L101.4 454.2L93.8 439.1L86.3 431.6Z"/>
<rect x="103.8" y="442.0" width="1.6" height="1.6" fill="#000"/>
<rect x="106.8" y="442.0" width="1.6" height="1.6" fill="#000"/>
<rect x="109.8" y="442.0" width="1.6" height="1.6" fill="#000"/>
<rect x="112.8" y="442.0" width="1.6" height="1.6" fill="#000"/>
<rect x="115.8" y="442.0" width="1.6" height="1.6" fill="#000"/>
<rect x="118.8" y="442.0" width="1.6" height="1.6" fill="#000"/>
<rect x="121.8" y="442.0" width="1.6" height="1.6" fill="#000"/>
<rect x="124.8" y="442.0" width="1.6" height="1.6" fill="#000"/>
<rect x="130.7" y="441.5" width="1.6" height="1.6" fill="#000"/>
<rect x="133.7" y="441.5" width="1.6" height="1.6" fill="#000"/>
<rect x="136.7" y="441.5" width="1.6" height="1.6" fill="#000"/>
<rect x="103.8" y="451.7" width="1.6" height="1.6" fill="#000"/>
<rect x="106.6" y="451.7" width="1.6" height="1.6" fill="#000"/>
<rect x="109.4" y="451.7" width="1.6" height="1.6" fill="#000"/>
<rect x="112.2" y="451.7" width="1.6" height="1.6" fill="#000"/>
<rect x="103.8" y="461.1" width="1.6" height="1.6" fill="#000"/>
<rect x="106.4" y="461.1" width="1.6" height="1.6" fill="#000"/>
<rect x="109.0" y="461.1" width="1.6" height="1.6" fill="#000"/>
<rect x="111.6" y="461.1" width="1.6" height="1.6" fill="#000"/>
<rect x="118.2" y="461.1" width="1.6" height="1.6" fill="#000"/>
<rect x="121.8" y="461.1" width="1.6" height="1.6" fill="#000"/>
<rect x="125.4" y="461.1" width="1.6" height="1.6" fill="#000"/>
<rect x="131.9" y="467.3" width="1.6" height="1.6" fill="#000"/>
<rect x="134.9" y="467.3" width="1.6" height="1.6" fill="#000"/>
<rect x="137.9" y="467.3" width="1.6" height="1.6" fill="#000"/>
<rect x="105.6" y="470.9" width="1.6" height="1.6" fill="#000"/>
<rect x="108.7" y="470.9" width="1.6" height="1.6" fill="#000"/>
<rect x="111.8" y="470.9" width="1.6" height="1.6" fill="#000"/>
<rect x="114.9" y="470.9" width="1.6" height="1.6" fill="#000"/>
<rect x="118.0" y="470.9" width="1.6" height="1.6" fill="#000"/>
<rect x="121.1" y="470.9" width="1.6" height="1.6" fill="#000"/>
<rect x="124.2" y="470.9" width="1.6" height="1.6" fill="#000"/>
<rect x="133.7" y="477.5" width="1.6" height="1.6" fill="#000"/>
<rect x="136.4" y="477.5" width="1.6" height="1.6" fill="#000"/>
<rect x="139.1" y="477.5" width="1.6" height="1.6" fill="#000"/>
<rect x="116.4" y="478.9" width="1.6" height="1.6" fill="#000"/>
<rect x="119.4" y="478.9" width="1.6" height="1.6" fill="#000"/>
<rect x="121.8" y="480.1" width="1.6" height="1.6" fill="#000"/>
<rect x="124.2" y="480.8" width="1.6" height="1.6" fill="#000"/>
<rect x="126.6" y="481.6" width="1.6" height="1.6" fill="#000"/>
<rect x="144.5" y="486.4" width="1.6" height="1.6" fill="#000"/>
<rect x="148.1" y="486.4" width="1.6" height="1.6" fill="#000"/>
<rect x="151.7" y="486.4" width="1.6" height="1.6" fill="#000"/>
<rect x="154.1" y="487.0" width="1.6" height="1.6" fill="#000"/>
<rect x="157.5" y="487.0" width="1.6" height="1.6" fill="#000"/>
<rect x="160.9" y="487.0" width="1.6" height="1.6" fill="#000"/>
<rect x="164.3" y="487.0" width="1.6" height="1.6" fill="#000"/>
<rect x="132.5" y="490.0" width="1.6" height="1.6" fill="#000"/>
<rect x="135.8" y="490.0" width="1.6" height="1.6" fill="#000"/>
<rect x="139.1" y="490.0" width="1.6" height="1.6" fill="#000"/>
<rect x="169.1" y="490.0" width="1.6" height="1.6" fill="#000"/>
<rect x="172.1" y="490.0" width="1.6" height="1.6" fill="#000"/>
<rect x="175.1" y="490.0" width="1.6" height="1.6" fill="#000"/>
<rect x="130.1" y="496.1" width="1.6" height="1.6" fill="#000"/>
<rect x="133.4" y="496.1" width="1.6" height="1.6" fill="#000"/>
<rect x="136.7" y="496.1" width="1.6" height="1.6" fill="#000"/>
<rect x="142.7" y="496.1" width="1.6" height="1.6" fill="#000"/>
<rect x="145.7" y="496.1" width="1.6" height="1.6" fill="#000"/>
<rect x="148.7" y="496.1" width="1.6" height="1.6" fill="#000"/>
<rect x="151.7" y="496.1" width="1.6" height="1.6" fill="#000"/>
<rect x="169.7" y="496.3" width="1.6" height="1.6" fill="#000"/>
<rect x="172.7" y="496.3" width="1.6" height="1.6" fill="#000"/>
<rect x="175.7" y="496.3" width="1.6" height="1.6" fill="#000"/>
<rect x="179.9" y="498.5" width="1.6" height="1.6" fill="#000"/>
<rect x="182.9" y="498.5" width="1.6" height="1.6" fill="#000"/>
<rect x="185.9" y="498.5" width="1.6" height="1.6" fill="#000"/>
<rect x="188.9" y="498.5" width="1.6" height="1.6" fill="#000"/>
<rect x="193.7" y="496.3" width="1.6" height="1.6" fill="#000"/>
<rect x="197.0" y="496.3" width="1.6" height="1.6" fill="#000"/>
<rect x="200.3" y="496.3" width="1.6" height="1.6" fill="#000"/>
<rect x="117.6" y="500.5" width="1.6" height="1.6" fill="#000"/>
<rect x="121.2" y="500.5" width="1.6" height="1.6" fill="#000"/>
<rect x="124.8" y="500.5" width="1.6" height="1.6" fill="#000"/>
<rect x="157.1" y="500.7" width="1.6" height="1.6" fill="#000"/>
<rect x="160.4" y="500.7" width="1.6" height="1.6" fill="#000"/>
<rect x="163.7" y="500.7" width="1.6" height="1.6" fill="#000"/>
<rect x="180.5" y="504.1" width="1.6" height="1.6" fill="#000"/>
<rect x="183.1" y="504.1" width="1.6" height="1.6" fill="#000"/>
<rect x="185.7" y="504.1" width="1.6" height="1.6" fill="#000"/>
<rect x="188.3" y="504.1" width="1.6" height="1.6" fill="#000"/>
<rect x="167.3" y="517.0" width="1.6" height="1.6" fill="#000"/>
<rect x="170.1" y="517.0" width="1.6" height="1.6" fill="#000"/>
<rect x="172.9" y="517.0" width="1.6" height="1.6" fill="#000"/>
<rect x="175.7" y="517.0" width="1.6" height="1.6" fill="#000"/>
<rect x="193.7" y="514.4" width="1.6" height="1.6" fill="#000"/>
<rect x="196.7" y="514.4" width="1.6" height="1.6" fill="#000"/>
<rect x="166.8" y="517.1" width="1.6" height="1.6" fill="#000"/>
<rect x="169.7" y="517.1" width="1.6" height="1.6" fill="#000"/>
<rect x="172.6" y="517.1" width="1.6" height="1.6" fill="#000"/>
<rect x="175.6" y="517.1" width="1.6" height="1.6" fill="#000"/>
<rect x="185.8" y="522.5" width="1.6" height="1.6" fill="#000"/>
<rect x="189.5" y="522.5" width="1.6" height="1.6" fill="#000"/>
<rect x="193.2" y="522.5" width="1.6" height="1.6" fill="#000"/>
<rect x="196.5" y="522.5" width="1.6" height="1.6" fill="#000"/>
<rect x="199.7" y="522.5" width="1.6" height="1.6" fill="#000"/>
<rect x="177.0" y="526.5" width="1.6" height="1.6" fill="#000"/>
<rect x="179.8" y="526.5" width="1.6" height="1.6" fill="#000"/>
<rect x="182.5" y="526.5" width="1.6" height="1.6" fill="#000"/>
<rect x="185.3" y="526.5" width="1.6" height="1.6" fill="#000"/>
<rect x="188.0" y="526.5" width="1.6" height="1.6" fill="#000"/>
<rect x="193.2" y="514.5" width="1.6" height="1.6" fill="#000"/>
<rect x="196.8" y="514.5" width="1.6" height="1.6" fill="#000"/>
<rect x="207.1" y="510.4" width="1.6" height="1.6" fill="#000"/>
<rect x="209.6" y="510.4" width="1.6" height="1.6" fill="#000"/>
<rect x="212.2" y="510.4" width="1.6" height="1.6" fill="#000"/>
<rect x="170.4" y="543.8" width="1.6" height="1.6" fill="#000"/>
<rect x="173.7" y="543.8" width="1.6" height="1.6" fill="#000"/>
<rect x="177.0" y="543.8" width="1.6" height="1.6" fill="#000"/>
<rect x="180.2" y="543.8" width="1.6" height="1.6" fill="#000"/>
<rect x="183.5" y="543.8" width="1.6" height="1.6" fill="#000"/>
<rect x="186.7" y="543.8" width="1.6" height="1.6" fill="#000"/>
<rect x="190.0" y="543.8" width="1.6" height="1.6" fill="#000"/>
<rect x="193.2" y="543.8" width="1.6" height="1.6" fill="#000"/>
<rect x="196.5" y="543.8" width="1.6" height="1.6" fill="#000"/>
<rect x="199.7" y="543.8" width="1.6" height="1.6" fill="#000"/>
<rect x="208.5" y="546.7" width="1.6" height="1.6" fill="#000"/>
<rect x="212.2" y="546.7" width="1.6" height="1.6" fill="#000"/>
<rect x="215.9" y="546.7" width="1.6" height="1.6" fill="#000"/>
<rect x="219.5" y="546.7" width="1.6" height="1.6" fill="#000"/>
<rect x="223.2" y="546.7" width="1.6" height="1.6" fill="#000"/>
<rect x="180.7" y="553.0" width="1.6" height="1.6" fill="#000"/>
<rect x="183.7" y="553.0" width="1.6" height="1.6" fill="#000"/>
<rect x="186.8" y="553.0" width="1.6" height="1.6" fill="#000"/>
<rect x="189.8" y="553.0" width="1.6" height="1.6" fill="#000"/>
<rect x="192.8" y="553.0" width="1.6" height="1.6" fill="#000"/>
<rect x="195.9" y="553.0" width="1.6" height="1.6" fill="#000"/>
<rect x="198.9" y="553.0" width="1.6" height="1.6" fill="#000"/>
<rect x="201.9" y="553.0" width="1.6" height="1.6" fill="#000"/>
<rect x="204.1" y="554.7" width="1.6" height="1.6" fill="#000"/>
<rect x="207.1" y="554.7" width="1.6" height="1.6" fill="#000"/>
<rect x="210.0" y="554.7" width="1.6" height="1.6" fill="#000"/>
<rect x="233.4" y="550.5" width="1.6" height="1.6" fill="#000"/>
<rect x="236.0" y="550.5" width="1.6" height="1.6" fill="#000"/>
<rect x="238.6" y="550.5" width="1.6" height="1.6" fill="#000"/>
<rect x="230.5" y="552.3" width="1.6" height="1.6" fill="#000"/>
<rect x="223.9" y="555.8" width="1.6" height="1.6" fill="#000"/>
<rect x="227.6" y="555.8" width="1.6" height="1.6" fill="#000"/>
<rect x="246.6" y="553.0" width="1.6" height="1.6" fill="#000"/>
<rect x="249.3" y="553.0" width="1.6" height="1.6" fill="#000"/>
<rect x="252.0" y="553.0" width="1.6" height="1.6" fill="#000"/>
<rect x="254.7" y="553.0" width="1.6" height="1.6" fill="#000"/>
<rect x="244.1" y="555.2" width="1.6" height="1.6" fill="#000"/>
<rect x="210.7" y="561.3" width="1.6" height="1.6" fill="#000"/>
<rect x="214.4" y="561.3" width="1.6" height="1.6" fill="#000"/>
<rect x="229.8" y="561.8" width="1.6" height="1.6" fill="#000"/>
<rect x="232.7" y="561.8" width="1.6" height="1.6" fill="#000"/>
<rect x="235.6" y="561.8" width="1.6" height="1.6" fill="#000"/>
<rect x="195.4" y="572.0" width="1.6" height="1.6" fill="#000"/>
<rect x="198.3" y="572.0" width="1.6" height="1.6" fill="#000"/>
<rect x="201.2" y="572.0" width="1.6" height="1.6" fill="#000"/>
<rect x="204.1" y="572.0" width="1.6" height="1.6" fill="#000"/>
<rect x="207.1" y="572.0" width="1.6" height="1.6" fill="#000"/>
<rect x="210.0" y="572.0" width="1.6" height="1.6" fill="#000"/>
<rect x="221.0" y="575.4" width="1.6" height="1.6" fill="#000"/>
<rect x="224.1" y="575.4" width="1.6" height="1.6" fill="#000"/>
<rect x="227.2" y="575.4" width="1.6" height="1.6" fill="#000"/>
<rect x="230.3" y="575.4" width="1.6" height="1.6" fill="#000"/>
<rect x="233.4" y="575.4" width="1.6" height="1.6" fill="#000"/>
<rect x="236.4" y="580.1" width="1.6" height="1.6" fill="#000"/>
<rect x="240.0" y="580.1" width="1.6" height="1.6" fill="#000"/>
<rect x="246.6" y="580.1" width="1.6" height="1.6" fill="#000"/>
<rect x="249.6" y="580.1" width="1.6" height="1.6" fill="#000"/>
<rect x="252.5" y="580.1" width="1.6" height="1.6" fill="#000"/>
<rect x="207.1" y="583.0" width="1.6" height="1.6" fill="#000"/>
<rect x="210.7" y="583.0" width="1.6" height="1.6" fill="#000"/>
<rect x="214.4" y="583.0" width="1.6" height="1.6" fill="#000"/>
<rect x="218.8" y="584.8" width="1.6" height="1.6" fill="#000"/>
<rect x="222.2" y="584.8" width="1.6" height="1.6" fill="#000"/>
<rect x="225.6" y="584.8" width="1.6" height="1.6" fill="#000"/>
<rect x="229.1" y="584.8" width="1.6" height="1.6" fill="#000"/>
<rect x="230.5" y="592.1" width="1.6" height="1.6" fill="#000"/>
<rect x="232.7" y="592.1" width="1.6" height="1.6" fill="#000"/>
<rect x="217.3" y="595.3" width="1.6" height="1.6" fill="#000"/>
<rect x="220.3" y="595.3" width="1.6" height="1.6" fill="#000"/>
<rect x="223.2" y="595.3" width="1.6" height="1.6" fill="#000"/>
<rect x="226.1" y="595.3" width="1.6" height="1.6" fill="#000"/>
<rect x="229.1" y="595.3" width="1.6" height="1.6" fill="#000"/>
<rect x="232.0" y="604.7" width="1.6" height="1.6" fill="#000"/>
<rect x="235.2" y="604.7" width="1.6" height="1.6" fill="#000"/>
<rect x="238.5" y="604.7" width="1.6" height="1.6" fill="#000"/>
<rect x="241.7" y="604.7" width="1.6" height="1.6" fill="#000"/>
<rect x="245.0" y="604.7" width="1.6" height="1.6" fill="#000"/>
<rect x="248.2" y="604.7" width="1.6" height="1.6" fill="#000"/>
<rect x="251.5" y="604.7" width="1.6" height="1.6" fill="#000"/>
<rect x="254.7" y="604.7" width="1.6" height="1.6" fill="#000"/>
<rect x="236.4" y="610.6" width="1.6" height="1.6" fill="#000"/>
<rect x="239.3" y="610.6" width="1.6" height="1.6" fill="#000"/>
<rect x="248.8" y="611.7" width="1.6" height="1.6" fill="#000"/>
<rect x="251.8" y="611.7" width="1.6" height="1.6" fill="#000"/>
<rect x="254.7" y="611.7" width="1.6" height="1.6" fill="#000"/>
<rect x="59.3" y="620.1" width="26.7" height="27.3" fill="#fff"/>
<text x="72.6" y="642.0" font-family="Liberation Serif" font-size="24.0" text-anchor="middle" fill="#333">c</text>
<text x="48.6" y="375.4" font-family="Liberation Sans" font-weight="bold" font-size="17.7" textLength="258.4" lengthAdjust="spacingAndGlyphs" fill="#000">Mean Elevation [m] = 330.162</text>
<line x1="47.0" y1="421.9" x2="53.2" y2="421.9" stroke="#222" stroke-width="1"/>
<text x="41.3" y="425.2" font-family="Liberation Serif" font-size="10.0" text-anchor="end" textLength="36.2" lengthAdjust="spacingAndGlyphs" fill="#1a1a1a">42°20'N</text>
<line x1="47.0" y1="476.7" x2="53.2" y2="476.7" stroke="#222" stroke-width="1"/>
<text x="41.3" y="480.0" font-family="Liberation Serif" font-size="10.0" text-anchor="end" textLength="36.2" lengthAdjust="spacingAndGlyphs" fill="#1a1a1a">42°15'N</text>
<line x1="47.0" y1="531.6" x2="53.2" y2="531.6" stroke="#222" stroke-width="1"/>
<text x="41.3" y="534.9" font-family="Liberation Serif" font-size="10.0" text-anchor="end" textLength="36.2" lengthAdjust="spacingAndGlyphs" fill="#1a1a1a">42°10'N</text>
<line x1="47.0" y1="586.4" x2="53.2" y2="586.4" stroke="#222" stroke-width="1"/>
<text x="41.3" y="589.7" font-family="Liberation Serif" font-size="10.0" text-anchor="end" textLength="30.7" lengthAdjust="spacingAndGlyphs" fill="#1a1a1a">42°5'N</text>
<line x1="47.0" y1="641.2" x2="53.2" y2="641.2" stroke="#222" stroke-width="1"/>
<text x="41.3" y="644.5" font-family="Liberation Serif" font-size="10.0" text-anchor="end" textLength="23.3" lengthAdjust="spacingAndGlyphs" fill="#1a1a1a">42°N</text>
<line x1="79.4" y1="653.3" x2="79.4" y2="659.7" stroke="#222" stroke-width="1"/>
<text x="79.4" y="671.7" font-family="Liberation Serif" font-size="10.0" text-anchor="middle" textLength="36.4" lengthAdjust="spacingAndGlyphs" fill="#1a1a1a">93°30'W</text>
<line x1="134.1" y1="653.3" x2="134.1" y2="659.7" stroke="#222" stroke-width="1"/>
<text x="134.1" y="671.7" font-family="Liberation Serif" font-size="10.0" text-anchor="middle" textLength="36.4" lengthAdjust="spacingAndGlyphs" fill="#1a1a1a">93°25'W</text>
<line x1="188.8" y1="653.3" x2="188.8" y2="659.7" stroke="#222" stroke-width="1"/>
<text x="188.8" y="671.7" font-family="Liberation Serif" font-size="10.0" text-anchor="middle" textLength="36.4" lengthAdjust="spacingAndGlyphs" fill="#1a1a1a">93°20'W</text>
<line x1="243.5" y1="653.3" x2="243.5" y2="659.7" stroke="#222" stroke-width="1"/>
<text x="243.5" y="671.7" font-family="Liberation Serif" font-size="10.0" text-anchor="middle" textLength="36.4" lengthAdjust="spacingAndGlyphs" fill="#1a1a1a">93°15'W</text>
<line x1="298.2" y1="653.3" x2="298.2" y2="659.7" stroke="#222" stroke-width="1"/>
<text x="298.2" y="671.7" font-family="Liberation Serif" font-size="10.0" text-anchor="middle" textLength="36.4" lengthAdjust="spacingAndGlyphs" fill="#1a1a1a">93°10'W</text>
<rect x="56.90" y="682.0" width="16.10" height="23.1" fill="#910069"/>
<rect x="73.00" y="682.0" width="16.10" height="23.1" fill="#c80046"/>
<rect x="89.10" y="682.0" width="16.10" height="23.1" fill="#e6002d"/>
<rect x="105.20" y="682.0" width="16.10" height="23.1" fill="#ff2800"/>
<rect x="121.30" y="682.0" width="16.10" height="23.1" fill="#ff5000"/>
<rect x="137.40" y="682.0" width="16.10" height="23.1" fill="#ff8c00"/>
<rect x="153.50" y="682.0" width="16.10" height="23.1" fill="#ffbe00"/>
<rect x="169.60" y="682.0" width="16.10" height="23.1" fill="#e6f500"/>
<rect x="185.70" y="682.0" width="16.10" height="23.1" fill="#50dc00"/>
<rect x="201.80" y="682.0" width="16.10" height="23.1" fill="#00be00"/>
<rect x="217.90" y="682.0" width="16.10" height="23.1" fill="#00961e"/>
<rect x="234.00" y="682.0" width="16.10" height="23.1" fill="#00824b"/>
<rect x="250.10" y="682.0" width="16.10" height="23.1" fill="#00508c"/>
<rect x="266.20" y="682.0" width="16.10" height="23.1" fill="#0a32b4"/>
<rect x="282.30" y="682.0" width="16.10" height="23.1" fill="#0000ff"/>
<line x1="73.00" y1="682.0" x2="73.00" y2="705.1" stroke="#222" stroke-width="0.8"/>
<line x1="89.10" y1="682.0" x2="89.10" y2="705.1" stroke="#222" stroke-width="0.8"/>
<line x1="105.20" y1="682.0" x2="105.20" y2="705.1" stroke="#222" stroke-width="0.8"/>
<line x1="121.30" y1="682.0" x2="121.30" y2="705.1" stroke="#222" stroke-width="0.8"/>
<line x1="137.40" y1="682.0" x2="137.40" y2="705.1" stroke="#222" stroke-width="0.8"/>
<line x1="153.50" y1="682.0" x2="153.50" y2="705.1" stroke="#222" stroke-width="0.8"/>
<line x1="169.60" y1="682.0" x2="169.60" y2="705.1" stroke="#222" stroke-width="0.8"/>
<line x1="185.70" y1="682.0" x2="185.70" y2="705.1" stroke="#222" stroke-width="0.8"/>
<line x1="201.80" y1="682.0" x2="201.80" y2="705.1" stroke="#222" stroke-width="0.8"/>
<line x1="217.90" y1="682.0" x2="217.90" y2="705.1" stroke="#222" stroke-width="0.8"/>
<line x1="234.00" y1="682.0" x2="234.00" y2="705.1" stroke="#222" stroke-width="0.8"/>
<line x1="250.10" y1="682.0" x2="250.10" y2="705.1" stroke="#222" stroke-width="0.8"/>
<line x1="266.20" y1="682.0" x2="266.20" y2="705.1" stroke="#222" stroke-width="0.8"/>
<line x1="282.30" y1="682.0" x2="282.30" y2="705.1" stroke="#222" stroke-width="0.8"/>
<rect x="56.9" y="682.0" width="241.5" height="23.1" fill="none" stroke="#222" stroke-width="0.9"/>
<text x="73.0" y="728.9" font-family="Liberation Sans" font-size="15.0" text-anchor="middle" transform="rotate(-45 73.0 723.5)" fill="#222">−60</text>
<text x="89.1" y="728.9" font-family="Liberation Sans" font-size="15.0" text-anchor="middle" transform="rotate(-45 89.1 723.5)" fill="#222">−50</text>
<text x="105.2" y="728.9" font-family="Liberation Sans" font-size="15.0" text-anchor="middle" transform="rotate(-45 105.2 723.5)" fill="#222">−40</text>
<text x="121.3" y="728.9" font-family="Liberation Sans" font-size="15.0" text-anchor="middle" transform="rotate(-45 121.3 723.5)" fill="#222">−30</text>
<text x="137.4" y="728.9" font-family="Liberation Sans" font-size="15.0" text-anchor="middle" transform="rotate(-45 137.4 723.5)" fill="#222">−20</text>
<text x="153.5" y="728.9" font-family="Liberation Sans" font-size="15.0" text-anchor="middle" transform="rotate(-45 153.5 723.5)" fill="#222">−10</text>
<text x="169.6" y="728.9" font-family="Liberation Sans" font-size="15.0" text-anchor="middle" transform="rotate(-45 169.6 723.5)" fill="#222">−5</text>
<text x="185.7" y="728.9" font-family="Liberation Sans" font-size="15.0" text-anchor="middle" transform="rotate(-45 185.7 723.5)" fill="#222">5</text>
<text x="201.8" y="728.9" font-family="Liberation Sans" font-size="15.0" text-anchor="middle" transform="rotate(-45 201.8 723.5)" fill="#222">10</text>
<text x="217.9" y="728.9" font-family="Liberation Sans" font-size="15.0" text-anchor="middle" transform="rotate(-45 217.9 723.5)" fill="#222">20</text>
<text x="234.0" y="728.9" font-family="Liberation Sans" font-size="15.0" text-anchor="middle" transform="rotate(-45 234.0 723.5)" fill="#222">30</text>
<text x="250.1" y="728.9" font-family="Liberation Sans" font-size="15.0" text-anchor="middle" transform="rotate(-45 250.1 723.5)" fill="#222">40</text>
<text x="266.2" y="728.9" font-family="Liberation Sans" font-size="15.0" text-anchor="middle" transform="rotate(-45 266.2 723.5)" fill="#222">50</text>
<text x="282.3" y="728.9" font-family="Liberation Sans" font-size="15.0" text-anchor="middle" transform="rotate(-45 282.3 723.5)" fill="#222">60</text>
<rect x="373.2" y="423.5" width="343.6" height="238.2" fill="#b3b3b3" stroke="#1a1a1a" stroke-width="1.2"/>
<rect x="375.6" y="426.0" width="337.6" height="233.3" fill="#ff5000"/>
<path fill="#ff8c00" fill-rule="evenodd" d="M384 426L392.5 426L409.4 426L426.2 426L409.4 442.7L409.4 442.7L392.5 451L384 442.7ZM426.2 426L443.1 426L460 426L476.9 426L493.8 426L510.6 426L527.5 426L544.4 426L561.3 426L578.2 426L595 426L611.9 426L628.8 426L645.7 426L662.6 426L679.4 426L696.3 426L713.2 426L713.2 442.7L713.2 459.3L713.2 476L713.2 492.7L713.2 509.3L713.2 526L713.2 542.6L713.2 559.3L713.2 576L713.2 592.6L713.2 609.3L713.2 626L713.2 642.6L713.2 659.3L696.3 659.3L679.4 659.3L662.6 659.3L645.7 659.3L628.8 659.3L611.9 659.3L595 659.3L578.2 659.3L561.3 659.3L544.4 659.3L527.5 659.3L510.6 659.3L493.8 659.3L476.9 659.3L460 659.3L443.1 659.3L426.2 659.3L409.4 659.3L392.5 659.3L375.6 659.3L375.6 642.6L375.6 626L375.6 617.6L392.5 617.6L400.9 609.3L392.5 601L381.2 592.6L375.6 587.1L375.6 576L375.6 567.6L392.5 567.6L400.9 559.3L392.5 542.6L392.5 542.6L384 526L375.6 517.7L375.6 509.3L375.6 492.7L375.6 484.3L392.5 484.3L400.9 476L409.4 467.7L417.8 459.3L426.2 451L434.7 442.7Z"/>
<path fill="#ffbe00" fill-rule="evenodd" d="M493.8 426L510.6 426L527.5 426L544.4 426L561.3 426L578.2 426L595 426L611.9 426L628.8 426L645.7 426L662.6 426L679.4 426L696.3 426L713.2 426L713.2 442.7L713.2 459.3L713.2 476L713.2 492.7L713.2 509.3L713.2 526L713.2 542.6L713.2 559.3L713.2 559.3L713.2 576L713.2 576L713.2 592.6L713.2 609.3L713.2 626L713.2 642.6L713.2 659.3L696.3 659.3L679.4 659.3L662.6 659.3L645.7 659.3L628.8 659.3L611.9 659.3L611.9 659.3L611.9 659.3L595 659.3L578.2 659.3L578.2 659.3L569.7 642.6L561.3 637.1L558.5 642.6L552.8 659.3L544.4 659.3L527.5 659.3L510.6 659.3L493.8 659.3L476.9 659.3L460 659.3L443.1 659.3L426.2 659.3L409.4 659.3L392.5 659.3L384 659.3L392.5 651L409.4 642.6L409.4 642.6L426.2 626L426.2 626L434.7 609.3L443.1 601L451.6 592.6L451.6 576L460 567.6L476.9 559.3L476.9 559.3L476.9 559.3L460 553.8L443.1 542.6L443.1 542.6L426.2 526L443.1 509.3L443.1 509.3L443.1 509.3L434.7 492.7L443.1 484.3L460 476L460 476L476.9 459.3L476.9 459.3L493.8 442.7L510.6 446.8L519.1 442.7L510.6 434.3ZM611.9 626L611.9 626L611.9 626L611.9 626ZM696.3 526L696.3 526L696.3 526L696.3 526Z"/>
<path fill="#e6f500" fill-rule="evenodd" d="M536 442.7L544.4 426L544.4 426L561.3 426L578.2 426L595 426L611.9 426L628.8 426L645.7 426L662.6 426L679.4 426L696.3 426L713.2 426L713.2 442.7L713.2 459.3L713.2 476L713.2 476L707.6 492.7L713.2 496.8L713.2 509.3L713.2 526L713.2 542.6L713.2 542.6L701.9 559.3L696.3 567.6L687.9 576L696.3 584.3L713.2 592.6L713.2 592.6L713.2 609.3L713.2 626L713.2 642.6L713.2 651L704.8 659.3L696.3 659.3L679.4 659.3L662.6 659.3L645.7 659.3L628.8 659.3L623.2 659.3L620.4 642.6L628.8 634.3L637.2 626L637.2 609.3L628.8 601L611.9 601L595 601L586.6 609.3L586.6 626L578.2 634.3L561.3 626L561.3 626L561.3 626L552.8 642.6L544.4 655.1L536 659.3L527.5 659.3L510.6 659.3L502.2 659.3L493.8 651L485.3 659.3L476.9 659.3L460 659.3L443.1 659.3L426.2 659.3L409.4 659.3L426.2 651L434.7 642.6L443.1 634.3L451.6 626L460 617.6L468.4 609.3L468.4 592.6L476.9 576L476.9 576L488.1 559.3L476.9 542.6L476.9 542.6L468.4 526L468.4 509.3L460 501L451.6 492.7L460 487.1L476.9 484.3L485.3 476L493.8 459.3L493.8 459.3L510.6 455.2L527.5 451ZM645.7 592.6L645.7 592.6L645.7 592.6L645.7 592.6ZM696.3 514.9L689.6 526L696.3 537.1L701.9 526ZM696.3 609.3L696.3 609.3L696.3 609.3L696.3 609.3Z"/>
<path fill="#50dc00" fill-rule="evenodd" d="M586.6 442.7L595 434.3L611.9 434.3L628.8 426L628.8 426L645.7 426L662.6 426L679.4 426L696.3 426L713.2 426L713.2 442.7L713.2 459.3L713.2 470.4L696.3 476L696.3 476L696.3 492.7L692.1 509.3L682.8 526L679.4 542.6L679.4 542.6L662.6 553.8L658.3 559.3L645.7 571.8L628.8 571.8L623.2 576L611.9 587.1L595 576L595 576L595 576L590.8 592.6L578.2 605.1L561.3 606.9L558.5 609.3L555.7 626L547.2 642.6L544.4 646.8L527.5 655.1L510.6 642.6L510.6 642.6L499.4 626L510.6 609.3L510.6 609.3L510.6 592.6L514.9 576L514.9 559.3L514.9 542.6L510.6 526L510.6 526L499.4 509.3L510.6 492.7L527.5 492.7L527.5 492.7L527.5 492.7L510.6 492.7L499.4 476L510.6 464.9L527.5 463.5L544.4 476L544.4 476L544.4 476L561.3 467.7L578.2 459.3L578.2 459.3ZM611.9 451L606.3 459.3L611.9 467.7L628.8 459.3L628.8 459.3L628.8 459.3ZM662.6 453.8L654.1 459.3L662.6 463.5L679.4 463.5L687.9 459.3L679.4 455.2ZM704.8 509.3L713.2 505.2L713.2 509.3L713.2 526L713.2 534.3L707.6 526ZM637.2 642.6L645.7 634.3L654.1 642.6L645.7 651Z"/>
<path fill="#00be00" fill-rule="evenodd" d="M654.1 426L662.6 426L671 426L679.4 434.3L687.9 426L696.3 426L713.2 426L713.2 442.7L713.2 459.3L713.2 464.9L701.9 459.3L696.3 442.7L696.3 442.7L696.3 442.7L679.4 446.8L662.6 442.7L662.6 442.7ZM510.6 476L527.5 471.8L533.1 476L527.5 481.5ZM569.7 476L578.2 470.4L586.6 476L595 492.7L595 492.7L595 492.7L611.9 484.3L620.4 476L628.8 470.4L645.7 467.7L662.6 471.8L679.4 471.8L685.1 476L685.1 492.7L683.7 509.3L679.4 517.7L676.1 526L662.6 542.6L662.6 542.6L649.9 559.3L645.7 563.5L628.8 563.5L611.9 576L595 570.4L586.6 576L582.4 592.6L578.2 596.8L561.3 602.2L552.8 609.3L550 626L544.4 637.1L536 642.6L527.5 646.8L521.9 642.6L510.6 626L521.9 609.3L519.1 592.6L523.3 576L523.3 559.3L523.3 542.6L521.9 526L510.6 509.3L527.5 503.8L544.4 501L552.8 492.7L561.3 484.3ZM544.4 517.7L536 526L544.4 534.3L552.8 526Z"/>
<path fill="#00961e" fill-rule="evenodd" d="M707.6 442.7L713.2 434.3L713.2 442.7L713.2 459.3ZM620.4 492.7L628.8 484.3L637.2 492.7L645.7 496.8L662.6 496.8L675.2 509.3L669.3 526L662.6 534.3L645.7 538.5L628.8 526L628.8 526L628.8 526L620.4 542.6L620.4 559.3L611.9 564.9L595 564.9L578.2 576L578.2 576L572.5 592.6L561.3 597.4L547.2 609.3L544.4 626L536 609.3L527.5 592.6L536 576L544.4 559.3L544.4 559.3L561.3 542.6L561.3 542.6L578.2 534.3L586.6 526L578.2 517.7L569.7 509.3L578.2 501L595 503.8L603.5 509.3L611.9 517.7L620.4 509.3Z"/>
<path fill="#00824b" fill-rule="evenodd" d="M637.2 509.3L645.7 505.2L662.6 505.2L666.8 509.3L662.6 526L662.6 526L645.7 530.2L640.1 526ZM569.7 559.3L578.2 551L595 559.3L578.2 564.9ZM552.8 576L561.3 567.6L566.9 576L561.3 592.6Z"/>
<rect x="496.3" y="473.7" width="1.6" height="1.6" fill="#000"/>
<rect x="484.3" y="476.8" width="1.6" height="1.6" fill="#000"/>
<rect x="488.1" y="476.8" width="1.6" height="1.6" fill="#000"/>
<rect x="493.1" y="476.8" width="1.6" height="1.6" fill="#000"/>
<rect x="496.9" y="476.8" width="1.6" height="1.6" fill="#000"/>
<rect x="499.4" y="481.9" width="1.6" height="1.6" fill="#000"/>
<rect x="502.3" y="481.9" width="1.6" height="1.6" fill="#000"/>
<rect x="505.2" y="481.9" width="1.6" height="1.6" fill="#000"/>
<rect x="508.1" y="481.9" width="1.6" height="1.6" fill="#000"/>
<rect x="511.0" y="481.9" width="1.6" height="1.6" fill="#000"/>
<rect x="513.9" y="481.9" width="1.6" height="1.6" fill="#000"/>
<rect x="516.8" y="481.9" width="1.6" height="1.6" fill="#000"/>
<rect x="519.7" y="481.9" width="1.6" height="1.6" fill="#000"/>
<rect x="498.2" y="487.0" width="1.6" height="1.6" fill="#000"/>
<rect x="501.3" y="487.0" width="1.6" height="1.6" fill="#000"/>
<rect x="504.5" y="487.0" width="1.6" height="1.6" fill="#000"/>
<rect x="487.4" y="491.4" width="1.6" height="1.6" fill="#000"/>
<rect x="498.2" y="491.4" width="1.6" height="1.6" fill="#000"/>
<rect x="501.3" y="491.4" width="1.6" height="1.6" fill="#000"/>
<rect x="504.5" y="491.4" width="1.6" height="1.6" fill="#000"/>
<rect x="508.9" y="491.8" width="1.6" height="1.6" fill="#000"/>
<rect x="484.3" y="494.8" width="1.6" height="1.6" fill="#000"/>
<rect x="488.1" y="494.8" width="1.6" height="1.6" fill="#000"/>
<rect x="493.1" y="500.2" width="1.6" height="1.6" fill="#000"/>
<rect x="496.6" y="500.2" width="1.6" height="1.6" fill="#000"/>
<rect x="500.1" y="500.2" width="1.6" height="1.6" fill="#000"/>
<rect x="503.5" y="500.2" width="1.6" height="1.6" fill="#000"/>
<rect x="507.0" y="500.2" width="1.6" height="1.6" fill="#000"/>
<rect x="514.0" y="500.2" width="1.6" height="1.6" fill="#000"/>
<rect x="517.2" y="500.2" width="1.6" height="1.6" fill="#000"/>
<rect x="520.5" y="500.2" width="1.6" height="1.6" fill="#000"/>
<rect x="523.8" y="500.2" width="1.6" height="1.6" fill="#000"/>
<rect x="527.0" y="500.2" width="1.6" height="1.6" fill="#000"/>
<rect x="530.3" y="500.2" width="1.6" height="1.6" fill="#000"/>
<rect x="533.6" y="500.2" width="1.6" height="1.6" fill="#000"/>
<rect x="505.8" y="504.9" width="1.6" height="1.6" fill="#000"/>
<rect x="509.1" y="504.9" width="1.6" height="1.6" fill="#000"/>
<rect x="512.4" y="504.9" width="1.6" height="1.6" fill="#000"/>
<rect x="515.7" y="504.9" width="1.6" height="1.6" fill="#000"/>
<rect x="519.0" y="504.9" width="1.6" height="1.6" fill="#000"/>
<rect x="522.2" y="509.7" width="1.6" height="1.6" fill="#000"/>
<rect x="525.2" y="509.7" width="1.6" height="1.6" fill="#000"/>
<rect x="528.2" y="509.7" width="1.6" height="1.6" fill="#000"/>
<rect x="531.1" y="509.7" width="1.6" height="1.6" fill="#000"/>
<rect x="534.1" y="509.7" width="1.6" height="1.6" fill="#000"/>
<rect x="537.1" y="509.7" width="1.6" height="1.6" fill="#000"/>
<rect x="540.1" y="509.7" width="1.6" height="1.6" fill="#000"/>
<rect x="543.1" y="509.7" width="1.6" height="1.6" fill="#000"/>
<rect x="545.0" y="507.8" width="1.6" height="1.6" fill="#000"/>
<rect x="503.9" y="511.6" width="1.6" height="1.6" fill="#000"/>
<rect x="508.9" y="511.6" width="1.6" height="1.6" fill="#000"/>
<rect x="512.1" y="511.6" width="1.6" height="1.6" fill="#000"/>
<rect x="499.4" y="522.0" width="1.6" height="1.6" fill="#000"/>
<rect x="502.5" y="522.0" width="1.6" height="1.6" fill="#000"/>
<rect x="505.5" y="522.0" width="1.6" height="1.6" fill="#000"/>
<rect x="508.5" y="522.0" width="1.6" height="1.6" fill="#000"/>
<rect x="511.6" y="522.0" width="1.6" height="1.6" fill="#000"/>
<rect x="514.6" y="522.0" width="1.6" height="1.6" fill="#000"/>
<rect x="517.6" y="522.0" width="1.6" height="1.6" fill="#000"/>
<rect x="520.7" y="522.0" width="1.6" height="1.6" fill="#000"/>
<rect x="523.7" y="522.0" width="1.6" height="1.6" fill="#000"/>
<rect x="526.7" y="522.0" width="1.6" height="1.6" fill="#000"/>
<rect x="529.8" y="522.0" width="1.6" height="1.6" fill="#000"/>
<rect x="536.1" y="522.0" width="1.6" height="1.6" fill="#000"/>
<rect x="541.8" y="521.7" width="1.6" height="1.6" fill="#000"/>
<rect x="545.6" y="521.7" width="1.6" height="1.6" fill="#000"/>
<rect x="551.9" y="521.7" width="1.6" height="1.6" fill="#000"/>
<rect x="555.5" y="521.7" width="1.6" height="1.6" fill="#000"/>
<rect x="559.1" y="521.7" width="1.6" height="1.6" fill="#000"/>
<rect x="562.7" y="521.7" width="1.6" height="1.6" fill="#000"/>
<rect x="582.3" y="511.6" width="1.6" height="1.6" fill="#000"/>
<rect x="585.5" y="511.6" width="1.6" height="1.6" fill="#000"/>
<rect x="588.8" y="511.6" width="1.6" height="1.6" fill="#000"/>
<rect x="592.1" y="511.6" width="1.6" height="1.6" fill="#000"/>
<rect x="595.4" y="511.6" width="1.6" height="1.6" fill="#000"/>
<rect x="598.7" y="511.6" width="1.6" height="1.6" fill="#000"/>
<rect x="589.8" y="506.9" width="1.6" height="1.6" fill="#000"/>
<rect x="594.9" y="516.0" width="1.6" height="1.6" fill="#000"/>
<rect x="564.6" y="531.0" width="1.6" height="1.6" fill="#000"/>
<rect x="568.1" y="531.0" width="1.6" height="1.6" fill="#000"/>
<rect x="571.7" y="531.0" width="1.6" height="1.6" fill="#000"/>
<rect x="575.3" y="531.0" width="1.6" height="1.6" fill="#000"/>
<rect x="529.1" y="542.0" width="1.6" height="1.6" fill="#000"/>
<rect x="532.1" y="542.0" width="1.6" height="1.6" fill="#000"/>
<rect x="535.1" y="542.0" width="1.6" height="1.6" fill="#000"/>
<rect x="538.0" y="542.0" width="1.6" height="1.6" fill="#000"/>
<rect x="541.0" y="542.0" width="1.6" height="1.6" fill="#000"/>
<rect x="543.9" y="542.0" width="1.6" height="1.6" fill="#000"/>
<rect x="546.9" y="542.0" width="1.6" height="1.6" fill="#000"/>
<rect x="549.8" y="542.0" width="1.6" height="1.6" fill="#000"/>
<rect x="552.8" y="542.0" width="1.6" height="1.6" fill="#000"/>
<rect x="555.7" y="542.0" width="1.6" height="1.6" fill="#000"/>
<rect x="561.4" y="542.0" width="1.6" height="1.6" fill="#000"/>
<rect x="564.4" y="542.0" width="1.6" height="1.6" fill="#000"/>
<rect x="567.4" y="542.0" width="1.6" height="1.6" fill="#000"/>
<rect x="570.5" y="542.0" width="1.6" height="1.6" fill="#000"/>
<rect x="573.5" y="542.0" width="1.6" height="1.6" fill="#000"/>
<rect x="576.5" y="542.0" width="1.6" height="1.6" fill="#000"/>
<rect x="579.5" y="542.0" width="1.6" height="1.6" fill="#000"/>
<rect x="582.5" y="542.0" width="1.6" height="1.6" fill="#000"/>
<rect x="585.6" y="542.0" width="1.6" height="1.6" fill="#000"/>
<rect x="588.6" y="542.0" width="1.6" height="1.6" fill="#000"/>
<rect x="582.3" y="553.7" width="1.6" height="1.6" fill="#000"/>
<rect x="585.7" y="553.7" width="1.6" height="1.6" fill="#000"/>
<rect x="589.2" y="553.7" width="1.6" height="1.6" fill="#000"/>
<rect x="594.3" y="548.0" width="1.6" height="1.6" fill="#000"/>
<rect x="598.7" y="548.0" width="1.6" height="1.6" fill="#000"/>
<rect x="523.5" y="568.9" width="1.6" height="1.6" fill="#000"/>
<rect x="526.5" y="568.9" width="1.6" height="1.6" fill="#000"/>
<rect x="529.6" y="568.9" width="1.6" height="1.6" fill="#000"/>
<rect x="532.6" y="568.9" width="1.6" height="1.6" fill="#000"/>
<rect x="535.7" y="568.9" width="1.6" height="1.6" fill="#000"/>
<rect x="538.7" y="568.9" width="1.6" height="1.6" fill="#000"/>
<rect x="541.8" y="568.9" width="1.6" height="1.6" fill="#000"/>
<rect x="544.9" y="568.9" width="1.6" height="1.6" fill="#000"/>
<rect x="547.9" y="568.9" width="1.6" height="1.6" fill="#000"/>
<rect x="551.0" y="568.9" width="1.6" height="1.6" fill="#000"/>
<rect x="554.0" y="568.9" width="1.6" height="1.6" fill="#000"/>
<rect x="557.1" y="568.9" width="1.6" height="1.6" fill="#000"/>
<rect x="560.1" y="568.9" width="1.6" height="1.6" fill="#000"/>
<rect x="560.1" y="568.9" width="1.6" height="1.6" fill="#000"/>
<rect x="562.7" y="567.0" width="1.6" height="1.6" fill="#000"/>
<rect x="527.3" y="578.6" width="1.6" height="1.6" fill="#000"/>
<rect x="530.2" y="578.6" width="1.6" height="1.6" fill="#000"/>
<rect x="533.2" y="578.6" width="1.6" height="1.6" fill="#000"/>
<rect x="536.2" y="578.6" width="1.6" height="1.6" fill="#000"/>
<rect x="539.2" y="578.6" width="1.6" height="1.6" fill="#000"/>
<rect x="542.2" y="578.6" width="1.6" height="1.6" fill="#000"/>
<rect x="545.2" y="578.6" width="1.6" height="1.6" fill="#000"/>
<rect x="548.2" y="578.6" width="1.6" height="1.6" fill="#000"/>
<rect x="551.2" y="578.6" width="1.6" height="1.6" fill="#000"/>
<rect x="554.2" y="578.6" width="1.6" height="1.6" fill="#000"/>
<rect x="557.1" y="578.6" width="1.6" height="1.6" fill="#000"/>
<rect x="560.1" y="578.6" width="1.6" height="1.6" fill="#000"/>
<rect x="568.4" y="583.4" width="1.6" height="1.6" fill="#000"/>
<rect x="571.5" y="582.1" width="1.6" height="1.6" fill="#000"/>
<rect x="575.9" y="582.1" width="1.6" height="1.6" fill="#000"/>
<rect x="587.3" y="582.1" width="1.6" height="1.6" fill="#000"/>
<rect x="590.2" y="582.1" width="1.6" height="1.6" fill="#000"/>
<rect x="593.0" y="582.1" width="1.6" height="1.6" fill="#000"/>
<rect x="523.5" y="588.2" width="1.6" height="1.6" fill="#000"/>
<rect x="526.4" y="588.2" width="1.6" height="1.6" fill="#000"/>
<rect x="529.4" y="588.2" width="1.6" height="1.6" fill="#000"/>
<rect x="532.3" y="588.2" width="1.6" height="1.6" fill="#000"/>
<rect x="551.9" y="587.6" width="1.6" height="1.6" fill="#000"/>
<rect x="555.1" y="587.6" width="1.6" height="1.6" fill="#000"/>
<rect x="558.2" y="587.6" width="1.6" height="1.6" fill="#000"/>
<rect x="561.4" y="587.6" width="1.6" height="1.6" fill="#000"/>
<rect x="565.8" y="592.6" width="1.6" height="1.6" fill="#000"/>
<rect x="568.8" y="592.6" width="1.6" height="1.6" fill="#000"/>
<rect x="571.7" y="592.6" width="1.6" height="1.6" fill="#000"/>
<rect x="574.7" y="592.6" width="1.6" height="1.6" fill="#000"/>
<rect x="508.3" y="596.3" width="1.6" height="1.6" fill="#000"/>
<rect x="511.3" y="596.3" width="1.6" height="1.6" fill="#000"/>
<rect x="514.4" y="596.3" width="1.6" height="1.6" fill="#000"/>
<rect x="517.4" y="596.3" width="1.6" height="1.6" fill="#000"/>
<rect x="520.4" y="596.3" width="1.6" height="1.6" fill="#000"/>
<rect x="523.5" y="596.3" width="1.6" height="1.6" fill="#000"/>
<rect x="526.5" y="596.3" width="1.6" height="1.6" fill="#000"/>
<rect x="529.5" y="596.3" width="1.6" height="1.6" fill="#000"/>
<rect x="532.6" y="596.3" width="1.6" height="1.6" fill="#000"/>
<rect x="535.6" y="596.3" width="1.6" height="1.6" fill="#000"/>
<rect x="538.6" y="596.3" width="1.6" height="1.6" fill="#000"/>
<rect x="529.8" y="605.3" width="1.6" height="1.6" fill="#000"/>
<rect x="533.6" y="605.3" width="1.6" height="1.6" fill="#000"/>
<rect x="537.4" y="605.3" width="1.6" height="1.6" fill="#000"/>
<rect x="540.8" y="605.3" width="1.6" height="1.6" fill="#000"/>
<rect x="544.3" y="605.3" width="1.6" height="1.6" fill="#000"/>
<rect x="513.3" y="608.1" width="1.6" height="1.6" fill="#000"/>
<rect x="517.1" y="608.1" width="1.6" height="1.6" fill="#000"/>
<rect x="523.5" y="608.1" width="1.6" height="1.6" fill="#000"/>
<rect x="526.6" y="608.1" width="1.6" height="1.6" fill="#000"/>
<rect x="529.8" y="608.1" width="1.6" height="1.6" fill="#000"/>
<rect x="537.4" y="615.0" width="1.6" height="1.6" fill="#000"/>
<rect x="540.8" y="615.0" width="1.6" height="1.6" fill="#000"/>
<rect x="544.3" y="615.0" width="1.6" height="1.6" fill="#000"/>
<rect x="491.8" y="617.5" width="1.6" height="1.6" fill="#000"/>
<rect x="494.7" y="617.5" width="1.6" height="1.6" fill="#000"/>
<rect x="497.5" y="617.5" width="1.6" height="1.6" fill="#000"/>
<rect x="500.4" y="617.5" width="1.6" height="1.6" fill="#000"/>
<rect x="503.2" y="617.5" width="1.6" height="1.6" fill="#000"/>
<rect x="506.4" y="619.4" width="1.6" height="1.6" fill="#000"/>
<rect x="509.9" y="619.4" width="1.6" height="1.6" fill="#000"/>
<rect x="513.3" y="619.4" width="1.6" height="1.6" fill="#000"/>
<rect x="516.8" y="619.4" width="1.6" height="1.6" fill="#000"/>
<rect x="520.3" y="619.4" width="1.6" height="1.6" fill="#000"/>
<rect x="524.7" y="619.2" width="1.6" height="1.6" fill="#000"/>
<rect x="528.1" y="619.2" width="1.6" height="1.6" fill="#000"/>
<rect x="531.5" y="619.2" width="1.6" height="1.6" fill="#000"/>
<rect x="534.8" y="619.2" width="1.6" height="1.6" fill="#000"/>
<rect x="491.2" y="629.2" width="1.6" height="1.6" fill="#000"/>
<rect x="494.1" y="629.2" width="1.6" height="1.6" fill="#000"/>
<rect x="496.9" y="629.2" width="1.6" height="1.6" fill="#000"/>
<rect x="499.7" y="629.2" width="1.6" height="1.6" fill="#000"/>
<rect x="502.6" y="629.2" width="1.6" height="1.6" fill="#000"/>
<rect x="505.4" y="629.2" width="1.6" height="1.6" fill="#000"/>
<rect x="508.3" y="629.2" width="1.6" height="1.6" fill="#000"/>
<rect x="511.4" y="629.2" width="1.6" height="1.6" fill="#000"/>
<rect x="514.4" y="629.2" width="1.6" height="1.6" fill="#000"/>
<rect x="517.3" y="629.2" width="1.6" height="1.6" fill="#000"/>
<rect x="520.3" y="629.2" width="1.6" height="1.6" fill="#000"/>
<rect x="626.5" y="487.7" width="1.6" height="1.6" fill="#000"/>
<rect x="630.3" y="487.7" width="1.6" height="1.6" fill="#000"/>
<rect x="634.1" y="487.7" width="1.6" height="1.6" fill="#000"/>
<rect x="625.9" y="499.0" width="1.6" height="1.6" fill="#000"/>
<rect x="629.3" y="499.0" width="1.6" height="1.6" fill="#000"/>
<rect x="632.8" y="499.0" width="1.6" height="1.6" fill="#000"/>
<rect x="640.4" y="496.9" width="1.6" height="1.6" fill="#000"/>
<rect x="643.8" y="496.9" width="1.6" height="1.6" fill="#000"/>
<rect x="647.2" y="496.9" width="1.6" height="1.6" fill="#000"/>
<rect x="650.5" y="496.9" width="1.6" height="1.6" fill="#000"/>
<rect x="653.7" y="504.1" width="1.6" height="1.6" fill="#000"/>
<rect x="657.1" y="504.1" width="1.6" height="1.6" fill="#000"/>
<rect x="660.4" y="504.1" width="1.6" height="1.6" fill="#000"/>
<rect x="663.8" y="504.1" width="1.6" height="1.6" fill="#000"/>
<rect x="642.9" y="511.3" width="1.6" height="1.6" fill="#000"/>
<rect x="646.5" y="511.3" width="1.6" height="1.6" fill="#000"/>
<rect x="650.1" y="511.3" width="1.6" height="1.6" fill="#000"/>
<rect x="653.7" y="511.3" width="1.6" height="1.6" fill="#000"/>
<rect x="591.1" y="512.1" width="1.6" height="1.6" fill="#000"/>
<rect x="594.4" y="512.1" width="1.6" height="1.6" fill="#000"/>
<rect x="597.7" y="512.1" width="1.6" height="1.6" fill="#000"/>
<rect x="601.0" y="512.1" width="1.6" height="1.6" fill="#000"/>
<rect x="604.2" y="512.1" width="1.6" height="1.6" fill="#000"/>
<rect x="607.5" y="512.1" width="1.6" height="1.6" fill="#000"/>
<rect x="594.9" y="516.4" width="1.6" height="1.6" fill="#000"/>
<rect x="597.9" y="516.4" width="1.6" height="1.6" fill="#000"/>
<rect x="600.9" y="516.4" width="1.6" height="1.6" fill="#000"/>
<rect x="603.9" y="516.4" width="1.6" height="1.6" fill="#000"/>
<rect x="606.9" y="516.4" width="1.6" height="1.6" fill="#000"/>
<rect x="640.4" y="521.2" width="1.6" height="1.6" fill="#000"/>
<rect x="642.1" y="518.6" width="1.6" height="1.6" fill="#000"/>
<rect x="614.5" y="531.9" width="1.6" height="1.6" fill="#000"/>
<rect x="617.0" y="530.8" width="1.6" height="1.6" fill="#000"/>
<rect x="619.5" y="529.8" width="1.6" height="1.6" fill="#000"/>
<rect x="625.9" y="529.4" width="1.6" height="1.6" fill="#000"/>
<rect x="629.3" y="529.4" width="1.6" height="1.6" fill="#000"/>
<rect x="632.8" y="529.4" width="1.6" height="1.6" fill="#000"/>
<rect x="610.7" y="544.2" width="1.6" height="1.6" fill="#000"/>
<rect x="615.1" y="544.2" width="1.6" height="1.6" fill="#000"/>
<rect x="594.9" y="547.7" width="1.6" height="1.6" fill="#000"/>
<rect x="598.3" y="547.7" width="1.6" height="1.6" fill="#000"/>
<rect x="601.6" y="547.7" width="1.6" height="1.6" fill="#000"/>
<rect x="605.0" y="547.7" width="1.6" height="1.6" fill="#000"/>
<rect x="379.4" y="626.1" width="29.1" height="29.8" fill="#fff"/>
<text x="394.0" y="650.0" font-family="Liberation Serif" font-size="24.0" text-anchor="middle" fill="#333">d</text>
<text x="411.5" y="408.6" font-family="Liberation Sans" font-weight="bold" font-size="17.9" textLength="268.1" lengthAdjust="spacingAndGlyphs" fill="#000">Mean Elevation [m] = 379.711</text>
<line x1="365.6" y1="446.1" x2="373.2" y2="446.1" stroke="#222" stroke-width="1"/>
<text x="359.2" y="449.9" font-family="Liberation Serif" font-size="11.5" text-anchor="end" textLength="43.3" lengthAdjust="spacingAndGlyphs" fill="#1a1a1a">43°25'N</text>
<line x1="365.6" y1="503.1" x2="373.2" y2="503.1" stroke="#222" stroke-width="1"/>
<text x="359.2" y="506.9" font-family="Liberation Serif" font-size="11.5" text-anchor="end" textLength="43.3" lengthAdjust="spacingAndGlyphs" fill="#1a1a1a">43°20'N</text>
<line x1="365.6" y1="560.1" x2="373.2" y2="560.1" stroke="#222" stroke-width="1"/>
<text x="359.2" y="563.9" font-family="Liberation Serif" font-size="11.5" text-anchor="end" textLength="43.3" lengthAdjust="spacingAndGlyphs" fill="#1a1a1a">43°15'N</text>
<line x1="365.6" y1="617.1" x2="373.2" y2="617.1" stroke="#222" stroke-width="1"/>
<text x="359.2" y="620.9" font-family="Liberation Serif" font-size="11.5" text-anchor="end" textLength="43.3" lengthAdjust="spacingAndGlyphs" fill="#1a1a1a">43°10'N</text>
<line x1="425.2" y1="661.7" x2="425.2" y2="668.3" stroke="#222" stroke-width="1"/>
<text x="425.2" y="681.6" font-family="Liberation Serif" font-size="11.5" text-anchor="middle" textLength="28.2" lengthAdjust="spacingAndGlyphs" fill="#1a1a1a">94°W</text>
<line x1="487.7" y1="661.7" x2="487.7" y2="668.3" stroke="#222" stroke-width="1"/>
<text x="487.7" y="681.6" font-family="Liberation Serif" font-size="11.5" text-anchor="middle" textLength="42.4" lengthAdjust="spacingAndGlyphs" fill="#1a1a1a">93°55'W</text>
<line x1="550.2" y1="661.7" x2="550.2" y2="668.3" stroke="#222" stroke-width="1"/>
<text x="550.2" y="681.6" font-family="Liberation Serif" font-size="11.5" text-anchor="middle" textLength="42.4" lengthAdjust="spacingAndGlyphs" fill="#1a1a1a">93°50'W</text>
<line x1="612.7" y1="661.7" x2="612.7" y2="668.3" stroke="#222" stroke-width="1"/>
<text x="612.7" y="681.6" font-family="Liberation Serif" font-size="11.5" text-anchor="middle" textLength="42.4" lengthAdjust="spacingAndGlyphs" fill="#1a1a1a">93°45'W</text>
<line x1="675.2" y1="661.7" x2="675.2" y2="668.3" stroke="#222" stroke-width="1"/>
<text x="675.2" y="681.6" font-family="Liberation Serif" font-size="11.5" text-anchor="middle" textLength="42.4" lengthAdjust="spacingAndGlyphs" fill="#1a1a1a">93°40'W</text>
<rect x="376.60" y="687.4" width="22.43" height="21.1" fill="#910069"/>
<rect x="399.03" y="687.4" width="22.43" height="21.1" fill="#c80046"/>
<rect x="421.45" y="687.4" width="22.43" height="21.1" fill="#e6002d"/>
<rect x="443.88" y="687.4" width="22.43" height="21.1" fill="#ff2800"/>
<rect x="466.31" y="687.4" width="22.43" height="21.1" fill="#ff5000"/>
<rect x="488.73" y="687.4" width="22.43" height="21.1" fill="#ff8c00"/>
<rect x="511.16" y="687.4" width="22.43" height="21.1" fill="#ffbe00"/>
<rect x="533.59" y="687.4" width="22.43" height="21.1" fill="#e6f500"/>
<rect x="556.01" y="687.4" width="22.43" height="21.1" fill="#50dc00"/>
<rect x="578.44" y="687.4" width="22.43" height="21.1" fill="#00be00"/>
<rect x="600.87" y="687.4" width="22.43" height="21.1" fill="#00961e"/>
<rect x="623.29" y="687.4" width="22.43" height="21.1" fill="#00824b"/>
<rect x="645.72" y="687.4" width="22.43" height="21.1" fill="#00508c"/>
<rect x="668.15" y="687.4" width="22.43" height="21.1" fill="#0a32b4"/>
<rect x="690.57" y="687.4" width="22.43" height="21.1" fill="#0000ff"/>
<line x1="399.03" y1="687.4" x2="399.03" y2="708.5" stroke="#222" stroke-width="0.8"/>
<line x1="421.45" y1="687.4" x2="421.45" y2="708.5" stroke="#222" stroke-width="0.8"/>
<line x1="443.88" y1="687.4" x2="443.88" y2="708.5" stroke="#222" stroke-width="0.8"/>
<line x1="466.31" y1="687.4" x2="466.31" y2="708.5" stroke="#222" stroke-width="0.8"/>
<line x1="488.73" y1="687.4" x2="488.73" y2="708.5" stroke="#222" stroke-width="0.8"/>
<line x1="511.16" y1="687.4" x2="511.16" y2="708.5" stroke="#222" stroke-width="0.8"/>
<line x1="533.59" y1="687.4" x2="533.59" y2="708.5" stroke="#222" stroke-width="0.8"/>
<line x1="556.01" y1="687.4" x2="556.01" y2="708.5" stroke="#222" stroke-width="0.8"/>
<line x1="578.44" y1="687.4" x2="578.44" y2="708.5" stroke="#222" stroke-width="0.8"/>
<line x1="600.87" y1="687.4" x2="600.87" y2="708.5" stroke="#222" stroke-width="0.8"/>
<line x1="623.29" y1="687.4" x2="623.29" y2="708.5" stroke="#222" stroke-width="0.8"/>
<line x1="645.72" y1="687.4" x2="645.72" y2="708.5" stroke="#222" stroke-width="0.8"/>
<line x1="668.15" y1="687.4" x2="668.15" y2="708.5" stroke="#222" stroke-width="0.8"/>
<line x1="690.57" y1="687.4" x2="690.57" y2="708.5" stroke="#222" stroke-width="0.8"/>
<rect x="376.6" y="687.4" width="336.4" height="21.1" fill="none" stroke="#222" stroke-width="0.9"/>
<text x="399.0" y="731.3" font-family="Liberation Sans" font-size="14.8" text-anchor="middle" transform="rotate(-45 399.0 726.0)" fill="#222">−60</text>
<text x="421.5" y="731.3" font-family="Liberation Sans" font-size="14.8" text-anchor="middle" transform="rotate(-45 421.5 726.0)" fill="#222">−50</text>
<text x="443.9" y="731.3" font-family="Liberation Sans" font-size="14.8" text-anchor="middle" transform="rotate(-45 443.9 726.0)" fill="#222">−40</text>
<text x="466.3" y="731.3" font-family="Liberation Sans" font-size="14.8" text-anchor="middle" transform="rotate(-45 466.3 726.0)" fill="#222">−30</text>
<text x="488.7" y="731.3" font-family="Liberation Sans" font-size="14.8" text-anchor="middle" transform="rotate(-45 488.7 726.0)" fill="#222">−20</text>
<text x="511.2" y="731.3" font-family="Liberation Sans" font-size="14.8" text-anchor="middle" transform="rotate(-45 511.2 726.0)" fill="#222">−10</text>
<text x="533.6" y="731.3" font-family="Liberation Sans" font-size="14.8" text-anchor="middle" transform="rotate(-45 533.6 726.0)" fill="#222">−5</text>
<text x="556.0" y="731.3" font-family="Liberation Sans" font-size="14.8" text-anchor="middle" transform="rotate(-45 556.0 726.0)" fill="#222">5</text>
<text x="578.4" y="731.3" font-family="Liberation Sans" font-size="14.8" text-anchor="middle" transform="rotate(-45 578.4 726.0)" fill="#222">10</text>
<text x="600.9" y="731.3" font-family="Liberation Sans" font-size="14.8" text-anchor="middle" transform="rotate(-45 600.9 726.0)" fill="#222">20</text>
<text x="623.3" y="731.3" font-family="Liberation Sans" font-size="14.8" text-anchor="middle" transform="rotate(-45 623.3 726.0)" fill="#222">30</text>
<text x="645.7" y="731.3" font-family="Liberation Sans" font-size="14.8" text-anchor="middle" transform="rotate(-45 645.7 726.0)" fill="#222">40</text>
<text x="668.1" y="731.3" font-family="Liberation Sans" font-size="14.8" text-anchor="middle" transform="rotate(-45 668.1 726.0)" fill="#222">50</text>
<text x="690.6" y="731.3" font-family="Liberation Sans" font-size="14.8" text-anchor="middle" transform="rotate(-45 690.6 726.0)" fill="#222">60</text>
<rect x="781.1" y="397.6" width="234.4" height="266.4" fill="#ffffff" stroke="#1a1a1a" stroke-width="1.2"/>
<rect x="785.3" y="401.8" width="222.6" height="257.8" fill="#ff5000"/>
<path fill="#ff8c00" fill-rule="evenodd" d="M785.3 401.8L801.2 401.8L817.1 401.8L833 401.8L848.9 401.8L864.8 401.8L880.7 401.8L896.6 401.8L912.5 401.8L928.4 401.8L944.3 401.8L960.2 401.8L976.1 401.8L992 401.8L1007.9 401.8L1007.9 417.9L1007.9 434L1007.9 450.1L1007.9 466.2L1007.9 482.4L1007.9 498.5L1007.9 514.6L1007.9 530.7L1007.9 546.8L1007.9 562.9L1007.9 579L1007.9 595.2L1007.9 611.3L1007.9 627.4L1007.9 643.5L1007.9 659.6L992 659.6L976.1 659.6L960.2 659.6L944.3 659.6L928.4 659.6L912.5 659.6L896.6 659.6L880.7 659.6L864.8 659.6L848.9 659.6L833 659.6L817.1 659.6L801.2 659.6L793.2 659.6L793.2 643.5L793.2 627.4L793.2 611.3L801.2 603.2L809.1 595.2L809.1 579L809.1 562.9L809.1 546.8L801.2 538.8L793.2 530.7L793.2 514.6L801.2 506.5L806.5 498.5L809.1 482.4L801.2 466.2L801.2 466.2L801.2 466.2L785.3 474.3L785.3 466.2L785.3 450.1L785.3 434L785.3 417.9Z"/>
<path fill="#ffbe00" fill-rule="evenodd" d="M785.3 401.8L801.2 401.8L817.1 401.8L833 401.8L817.1 409.9L801.2 409.9L793.2 417.9L793.2 434L785.3 442.1L785.3 434L785.3 417.9ZM841 417.9L848.9 409.9L852.9 401.8L864.8 401.8L880.7 401.8L896.6 401.8L912.5 401.8L928.4 401.8L944.3 401.8L960.2 401.8L976.1 401.8L992 401.8L1007.9 401.8L1007.9 417.9L1007.9 434L1007.9 450.1L1007.9 466.2L1007.9 482.4L1007.9 498.5L1007.9 514.6L1007.9 530.7L1007.9 546.8L1007.9 562.9L1007.9 579L1007.9 595.2L1007.9 611.3L1007.9 627.4L1007.9 643.5L1007.9 659.6L992 659.6L976.1 659.6L960.2 659.6L944.3 659.6L928.4 659.6L912.5 659.6L896.6 659.6L880.7 659.6L864.8 659.6L848.9 659.6L833 659.6L817.1 659.6L817.1 659.6L809.1 643.5L809.1 627.4L817.1 611.3L817.1 611.3L825 595.2L833 579L833 579L833 579L825 562.9L825 546.8L825 530.7L825 514.6L817.1 498.5L822.4 482.4L825 466.2L833 450.1L833 450.1L841 434Z"/>
<path fill="#e6f500" fill-rule="evenodd" d="M785.3 401.8L793.2 401.8L785.3 409.9ZM860.8 401.8L864.8 401.8L880.7 401.8L896.6 401.8L912.5 401.8L928.4 401.8L944.3 401.8L960.2 401.8L976.1 401.8L992 401.8L1007.9 401.8L1007.9 417.9L1007.9 434L1007.9 450.1L1007.9 466.2L1007.9 482.4L1007.9 493.1L992 493.1L976.1 498.5L976.1 498.5L976.1 498.5L984 514.6L984 530.7L992 546.8L992 546.8L1007.9 554.9L1007.9 562.9L1007.9 579L1007.9 595.2L1007.9 611.3L1007.9 627.4L1007.9 643.5L1007.9 659.6L992 659.6L992 659.6L992 659.6L976.1 659.6L960.2 659.6L944.3 659.6L928.4 659.6L912.5 659.6L896.6 659.6L880.7 659.6L864.8 659.6L848.9 659.6L833 659.6L833 643.5L833 643.5L825 627.4L827.7 611.3L833 603.2L841 595.2L843.6 579L841 562.9L841 546.8L841 530.7L841 514.6L833 506.5L827.7 498.5L833 482.4L833 482.4L841 466.2L843.6 450.1L848.9 442.1L856.8 434L856.8 417.9Z"/>
<path fill="#50dc00" fill-rule="evenodd" d="M872.8 401.8L880.7 401.8L896.6 401.8L912.5 401.8L928.4 401.8L936.3 401.8L944.3 417.9L944.3 417.9L944.3 417.9L960.2 401.8L976.1 417.9L976.1 417.9L976.1 417.9L980.1 401.8L992 401.8L1007.9 401.8L1007.9 417.9L1007.9 434L1007.9 450.1L1007.9 466.2L1007.9 482.4L992 482.4L992 482.4L976.1 487.7L960.2 494.4L952.2 498.5L952.2 514.6L952.2 530.7L944.3 538.8L939 546.8L936.3 562.9L944.3 579L944.3 595.2L936.3 611.3L928.4 627.4L928.4 627.4L912.5 643.5L904.5 627.4L904.5 611.3L896.6 603.2L880.7 603.2L872.8 595.2L870.1 579L864.8 562.9L864.8 562.9L856.8 546.8L856.8 530.7L856.8 514.6L864.8 498.5L864.8 498.5L864.8 498.5L856.8 482.4L864.8 466.2L864.8 466.2L870.1 450.1L872.8 434L880.7 417.9L880.7 417.9L880.7 417.9Z"/>
<path fill="#00be00" fill-rule="evenodd" d="M893.4 417.9L896.6 401.8L896.6 401.8L912.5 401.8L920.5 401.8L920.5 417.9L912.5 434L912.5 434L901.9 450.1L901.9 466.2L912.5 474.3L928.4 474.3L936.3 466.2L944.3 458.2L960.2 458.2L968.1 450.1L976.1 442.1L984 434L986.7 417.9L988 401.8L992 401.8L1000 401.8L1000 417.9L1007.9 426L1007.9 434L1007.9 450.1L1007.9 466.2L1007.9 471.6L992 471.6L976.1 474.3L968.1 482.4L960.2 486.4L944.3 490.4L936.3 498.5L936.3 514.6L936.3 530.7L928.4 546.8L928.4 546.8L920.5 562.9L912.5 571L901.9 579L896.6 584.4L880.7 579L880.7 579L875.4 562.9L872.8 546.8L872.8 530.7L872.8 514.6L875.4 498.5L872.8 482.4L875.4 466.2L880.7 450.1L880.7 450.1L888.6 434Z"/>
<rect x="891.7" y="480.9" width="1.6" height="1.6" fill="#000"/>
<rect x="896.9" y="479.1" width="1.6" height="1.6" fill="#000"/>
<rect x="904.9" y="478.5" width="1.6" height="1.6" fill="#000"/>
<rect x="910.0" y="478.5" width="1.6" height="1.6" fill="#000"/>
<rect x="891.3" y="485.2" width="1.6" height="1.6" fill="#000"/>
<rect x="860.5" y="487.1" width="1.6" height="1.6" fill="#000"/>
<rect x="868.2" y="490.3" width="1.6" height="1.6" fill="#000"/>
<rect x="860.2" y="492.7" width="1.6" height="1.6" fill="#000"/>
<rect x="865.0" y="496.0" width="1.6" height="1.6" fill="#000"/>
<rect x="882.2" y="493.2" width="1.6" height="1.6" fill="#000"/>
<rect x="887.3" y="493.2" width="1.6" height="1.6" fill="#000"/>
<rect x="892.9" y="493.2" width="1.6" height="1.6" fill="#000"/>
<rect x="898.9" y="493.2" width="1.6" height="1.6" fill="#000"/>
<rect x="903.6" y="494.0" width="1.6" height="1.6" fill="#000"/>
<rect x="909.7" y="494.0" width="1.6" height="1.6" fill="#000"/>
<rect x="886.1" y="497.5" width="1.6" height="1.6" fill="#000"/>
<rect x="888.9" y="499.6" width="1.6" height="1.6" fill="#000"/>
<rect x="895.7" y="499.1" width="1.6" height="1.6" fill="#000"/>
<rect x="900.9" y="499.1" width="1.6" height="1.6" fill="#000"/>
<rect x="907.3" y="499.6" width="1.6" height="1.6" fill="#000"/>
<rect x="862.1" y="506.3" width="1.6" height="1.6" fill="#000"/>
<rect x="882.2" y="506.8" width="1.6" height="1.6" fill="#000"/>
<rect x="891.7" y="507.1" width="1.6" height="1.6" fill="#000"/>
<rect x="895.7" y="507.1" width="1.6" height="1.6" fill="#000"/>
<rect x="904.9" y="506.3" width="1.6" height="1.6" fill="#000"/>
<rect x="910.5" y="506.3" width="1.6" height="1.6" fill="#000"/>
<rect x="932.9" y="504.7" width="1.6" height="1.6" fill="#000"/>
<rect x="936.6" y="504.7" width="1.6" height="1.6" fill="#000"/>
<rect x="940.9" y="504.7" width="1.6" height="1.6" fill="#000"/>
<rect x="948.1" y="504.7" width="1.6" height="1.6" fill="#000"/>
<rect x="952.1" y="504.7" width="1.6" height="1.6" fill="#000"/>
<rect x="864.7" y="510.4" width="1.6" height="1.6" fill="#000"/>
<rect x="871.8" y="511.5" width="1.6" height="1.6" fill="#000"/>
<rect x="905.7" y="511.1" width="1.6" height="1.6" fill="#000"/>
<rect x="910.5" y="511.1" width="1.6" height="1.6" fill="#000"/>
<rect x="918.5" y="511.2" width="1.6" height="1.6" fill="#000"/>
<rect x="924.1" y="510.4" width="1.6" height="1.6" fill="#000"/>
<rect x="929.7" y="510.4" width="1.6" height="1.6" fill="#000"/>
<rect x="935.3" y="511.2" width="1.6" height="1.6" fill="#000"/>
<rect x="940.9" y="510.4" width="1.6" height="1.6" fill="#000"/>
<rect x="861.8" y="516.0" width="1.6" height="1.6" fill="#000"/>
<rect x="891.8" y="514.4" width="1.6" height="1.6" fill="#000"/>
<rect x="898.5" y="514.4" width="1.6" height="1.6" fill="#000"/>
<rect x="912.9" y="516.0" width="1.6" height="1.6" fill="#000"/>
<rect x="918.5" y="514.3" width="1.6" height="1.6" fill="#000"/>
<rect x="927.3" y="513.5" width="1.6" height="1.6" fill="#000"/>
<rect x="937.7" y="514.7" width="1.6" height="1.6" fill="#000"/>
<rect x="944.6" y="515.1" width="1.6" height="1.6" fill="#000"/>
<rect x="877.0" y="516.7" width="1.6" height="1.6" fill="#000"/>
<rect x="884.6" y="517.1" width="1.6" height="1.6" fill="#000"/>
<rect x="861.3" y="520.0" width="1.6" height="1.6" fill="#000"/>
<rect x="868.2" y="520.7" width="1.6" height="1.6" fill="#000"/>
<rect x="877.8" y="521.5" width="1.6" height="1.6" fill="#000"/>
<rect x="890.2" y="521.5" width="1.6" height="1.6" fill="#000"/>
<rect x="897.3" y="520.8" width="1.6" height="1.6" fill="#000"/>
<rect x="912.9" y="520.8" width="1.6" height="1.6" fill="#000"/>
<rect x="931.0" y="519.5" width="1.6" height="1.6" fill="#000"/>
<rect x="873.0" y="527.2" width="1.6" height="1.6" fill="#000"/>
<rect x="883.3" y="526.7" width="1.6" height="1.6" fill="#000"/>
<rect x="891.3" y="526.7" width="1.6" height="1.6" fill="#000"/>
<rect x="899.3" y="527.2" width="1.6" height="1.6" fill="#000"/>
<rect x="912.9" y="525.9" width="1.6" height="1.6" fill="#000"/>
<rect x="919.0" y="525.1" width="1.6" height="1.6" fill="#000"/>
<rect x="926.2" y="525.1" width="1.6" height="1.6" fill="#000"/>
<rect x="929.2" y="527.8" width="1.6" height="1.6" fill="#000"/>
<rect x="940.9" y="524.3" width="1.6" height="1.6" fill="#000"/>
<rect x="861.8" y="528.0" width="1.6" height="1.6" fill="#000"/>
<rect x="861.8" y="532.8" width="1.6" height="1.6" fill="#000"/>
<rect x="871.4" y="532.6" width="1.6" height="1.6" fill="#000"/>
<rect x="878.1" y="532.3" width="1.6" height="1.6" fill="#000"/>
<rect x="885.3" y="531.0" width="1.6" height="1.6" fill="#000"/>
<rect x="894.2" y="531.5" width="1.6" height="1.6" fill="#000"/>
<rect x="913.2" y="531.0" width="1.6" height="1.6" fill="#000"/>
<rect x="919.3" y="531.0" width="1.6" height="1.6" fill="#000"/>
<rect x="925.7" y="530.2" width="1.6" height="1.6" fill="#000"/>
<rect x="940.9" y="530.2" width="1.6" height="1.6" fill="#000"/>
<rect x="862.1" y="538.2" width="1.6" height="1.6" fill="#000"/>
<rect x="871.7" y="538.7" width="1.6" height="1.6" fill="#000"/>
<rect x="878.6" y="539.0" width="1.6" height="1.6" fill="#000"/>
<rect x="884.9" y="540.0" width="1.6" height="1.6" fill="#000"/>
<rect x="890.9" y="537.1" width="1.6" height="1.6" fill="#000"/>
<rect x="899.3" y="537.1" width="1.6" height="1.6" fill="#000"/>
<rect x="906.5" y="536.3" width="1.6" height="1.6" fill="#000"/>
<rect x="913.7" y="536.8" width="1.6" height="1.6" fill="#000"/>
<rect x="919.3" y="539.5" width="1.6" height="1.6" fill="#000"/>
<rect x="924.6" y="539.0" width="1.6" height="1.6" fill="#000"/>
<rect x="931.3" y="535.5" width="1.6" height="1.6" fill="#000"/>
<rect x="940.1" y="538.7" width="1.6" height="1.6" fill="#000"/>
<rect x="862.1" y="543.8" width="1.6" height="1.6" fill="#000"/>
<rect x="869.4" y="543.8" width="1.6" height="1.6" fill="#000"/>
<rect x="876.2" y="544.8" width="1.6" height="1.6" fill="#000"/>
<rect x="884.1" y="544.8" width="1.6" height="1.6" fill="#000"/>
<rect x="890.2" y="543.8" width="1.6" height="1.6" fill="#000"/>
<rect x="903.6" y="545.4" width="1.6" height="1.6" fill="#000"/>
<rect x="919.3" y="543.8" width="1.6" height="1.6" fill="#000"/>
<rect x="861.8" y="550.4" width="1.6" height="1.6" fill="#000"/>
<rect x="872.6" y="552.8" width="1.6" height="1.6" fill="#000"/>
<rect x="883.7" y="551.8" width="1.6" height="1.6" fill="#000"/>
<rect x="894.5" y="550.7" width="1.6" height="1.6" fill="#000"/>
<rect x="920.1" y="552.0" width="1.6" height="1.6" fill="#000"/>
<rect x="887.3" y="556.8" width="1.6" height="1.6" fill="#000"/>
<rect x="882.6" y="559.2" width="1.6" height="1.6" fill="#000"/>
<rect x="878.1" y="561.4" width="1.6" height="1.6" fill="#000"/>
<rect x="892.9" y="560.3" width="1.6" height="1.6" fill="#000"/>
<rect x="905.7" y="557.1" width="1.6" height="1.6" fill="#000"/>
<rect x="908.1" y="560.3" width="1.6" height="1.6" fill="#000"/>
<rect x="920.1" y="556.6" width="1.6" height="1.6" fill="#000"/>
<rect x="921.2" y="561.1" width="1.6" height="1.6" fill="#000"/>
<rect x="863.9" y="560.6" width="1.6" height="1.6" fill="#000"/>
<rect x="882.6" y="583.1" width="1.6" height="1.6" fill="#000"/>
<rect x="889.7" y="583.1" width="1.6" height="1.6" fill="#000"/>
<rect x="896.9" y="583.1" width="1.6" height="1.6" fill="#000"/>
<rect x="854.6" y="569.4" width="1.6" height="1.6" fill="#000"/>
<rect x="858.0" y="569.4" width="1.6" height="1.6" fill="#000"/>
<rect x="861.4" y="569.4" width="1.6" height="1.6" fill="#000"/>
<rect x="864.9" y="569.4" width="1.6" height="1.6" fill="#000"/>
<rect x="868.3" y="569.4" width="1.6" height="1.6" fill="#000"/>
<rect x="871.7" y="569.4" width="1.6" height="1.6" fill="#000"/>
<rect x="875.1" y="569.4" width="1.6" height="1.6" fill="#000"/>
<rect x="878.6" y="569.4" width="1.6" height="1.6" fill="#000"/>
<rect x="881.8" y="574.2" width="1.6" height="1.6" fill="#000"/>
<rect x="885.2" y="574.2" width="1.6" height="1.6" fill="#000"/>
<rect x="888.7" y="574.2" width="1.6" height="1.6" fill="#000"/>
<rect x="892.2" y="574.2" width="1.6" height="1.6" fill="#000"/>
<rect x="895.7" y="574.2" width="1.6" height="1.6" fill="#000"/>
<rect x="899.2" y="574.2" width="1.6" height="1.6" fill="#000"/>
<rect x="902.7" y="574.2" width="1.6" height="1.6" fill="#000"/>
<rect x="906.2" y="574.2" width="1.6" height="1.6" fill="#000"/>
<rect x="909.7" y="574.2" width="1.6" height="1.6" fill="#000"/>
<rect x="913.7" y="571.9" width="1.6" height="1.6" fill="#000"/>
<rect x="917.3" y="571.9" width="1.6" height="1.6" fill="#000"/>
<rect x="920.9" y="571.9" width="1.6" height="1.6" fill="#000"/>
<rect x="870.6" y="583.1" width="1.6" height="1.6" fill="#000"/>
<rect x="873.8" y="583.1" width="1.6" height="1.6" fill="#000"/>
<rect x="877.0" y="583.1" width="1.6" height="1.6" fill="#000"/>
<rect x="903.3" y="583.1" width="1.6" height="1.6" fill="#000"/>
<rect x="906.5" y="583.1" width="1.6" height="1.6" fill="#000"/>
<rect x="909.7" y="583.1" width="1.6" height="1.6" fill="#000"/>
<rect x="913.7" y="583.1" width="1.6" height="1.6" fill="#000"/>
<rect x="916.9" y="583.1" width="1.6" height="1.6" fill="#000"/>
<rect x="920.1" y="583.1" width="1.6" height="1.6" fill="#000"/>
<rect x="786.4" y="630.9" width="27.3" height="27.9" fill="#fff"/>
<text x="800.0" y="653.0" font-family="Liberation Serif" font-size="24.0" text-anchor="middle" fill="#333">e</text>
<text x="776.4" y="382.6" font-family="Liberation Sans" font-weight="bold" font-size="17.0" textLength="243.2" lengthAdjust="spacingAndGlyphs" fill="#000">Mean Elevation [m] = 363.677</text>
<line x1="774.6" y1="401.6" x2="781.1" y2="401.6" stroke="#222" stroke-width="1"/>
<text x="769.4" y="404.9" font-family="Liberation Serif" font-size="10.0" text-anchor="end" textLength="35.4" lengthAdjust="spacingAndGlyphs" fill="#1a1a1a">42°40'N</text>
<line x1="774.6" y1="437.2" x2="781.1" y2="437.2" stroke="#222" stroke-width="1"/>
<text x="769.4" y="440.5" font-family="Liberation Serif" font-size="10.0" text-anchor="end" textLength="35.4" lengthAdjust="spacingAndGlyphs" fill="#1a1a1a">42°38'N</text>
<line x1="774.6" y1="472.7" x2="781.1" y2="472.7" stroke="#222" stroke-width="1"/>
<text x="769.4" y="476.0" font-family="Liberation Serif" font-size="10.0" text-anchor="end" textLength="35.4" lengthAdjust="spacingAndGlyphs" fill="#1a1a1a">42°36'N</text>
<line x1="774.6" y1="508.2" x2="781.1" y2="508.2" stroke="#222" stroke-width="1"/>
<text x="769.4" y="511.6" font-family="Liberation Serif" font-size="10.0" text-anchor="end" textLength="35.4" lengthAdjust="spacingAndGlyphs" fill="#1a1a1a">42°34'N</text>
<line x1="774.6" y1="543.8" x2="781.1" y2="543.8" stroke="#222" stroke-width="1"/>
<text x="769.4" y="547.1" font-family="Liberation Serif" font-size="10.0" text-anchor="end" textLength="35.4" lengthAdjust="spacingAndGlyphs" fill="#1a1a1a">42°32'N</text>
<line x1="774.6" y1="579.4" x2="781.1" y2="579.4" stroke="#222" stroke-width="1"/>
<text x="769.4" y="582.7" font-family="Liberation Serif" font-size="10.0" text-anchor="end" textLength="35.4" lengthAdjust="spacingAndGlyphs" fill="#1a1a1a">42°30'N</text>
<line x1="774.6" y1="614.9" x2="781.1" y2="614.9" stroke="#222" stroke-width="1"/>
<text x="769.4" y="618.2" font-family="Liberation Serif" font-size="10.0" text-anchor="end" textLength="35.4" lengthAdjust="spacingAndGlyphs" fill="#1a1a1a">42°28'N</text>
<line x1="774.6" y1="650.5" x2="781.1" y2="650.5" stroke="#222" stroke-width="1"/>
<text x="769.4" y="653.8" font-family="Liberation Serif" font-size="10.0" text-anchor="end" textLength="35.4" lengthAdjust="spacingAndGlyphs" fill="#1a1a1a">42°26'N</text>
<line x1="784.5" y1="664.0" x2="784.5" y2="669.7" stroke="#222" stroke-width="1"/>
<line x1="820.0" y1="664.0" x2="820.0" y2="669.7" stroke="#222" stroke-width="1"/>
<text x="820.0" y="682.6" font-family="Liberation Serif" font-size="10.0" text-anchor="middle" textLength="35.0" lengthAdjust="spacingAndGlyphs" fill="#1a1a1a">93°44'W</text>
<line x1="855.6" y1="664.0" x2="855.6" y2="669.7" stroke="#222" stroke-width="1"/>
<line x1="891.1" y1="664.0" x2="891.1" y2="669.7" stroke="#222" stroke-width="1"/>
<text x="891.1" y="682.6" font-family="Liberation Serif" font-size="10.0" text-anchor="middle" textLength="35.0" lengthAdjust="spacingAndGlyphs" fill="#1a1a1a">93°40'W</text>
<line x1="926.7" y1="664.0" x2="926.7" y2="669.7" stroke="#222" stroke-width="1"/>
<line x1="962.2" y1="664.0" x2="962.2" y2="669.7" stroke="#222" stroke-width="1"/>
<text x="962.2" y="682.6" font-family="Liberation Serif" font-size="10.0" text-anchor="middle" textLength="35.0" lengthAdjust="spacingAndGlyphs" fill="#1a1a1a">93°36'W</text>
<line x1="997.8" y1="664.0" x2="997.8" y2="669.7" stroke="#222" stroke-width="1"/>
<rect x="785.00" y="694.3" width="15.09" height="23.8" fill="#910069"/>
<rect x="800.09" y="694.3" width="15.09" height="23.8" fill="#c80046"/>
<rect x="815.19" y="694.3" width="15.09" height="23.8" fill="#e6002d"/>
<rect x="830.28" y="694.3" width="15.09" height="23.8" fill="#ff2800"/>
<rect x="845.37" y="694.3" width="15.09" height="23.8" fill="#ff5000"/>
<rect x="860.47" y="694.3" width="15.09" height="23.8" fill="#ff8c00"/>
<rect x="875.56" y="694.3" width="15.09" height="23.8" fill="#ffbe00"/>
<rect x="890.65" y="694.3" width="15.09" height="23.8" fill="#e6f500"/>
<rect x="905.75" y="694.3" width="15.09" height="23.8" fill="#50dc00"/>
<rect x="920.84" y="694.3" width="15.09" height="23.8" fill="#00be00"/>
<rect x="935.93" y="694.3" width="15.09" height="23.8" fill="#00961e"/>
<rect x="951.03" y="694.3" width="15.09" height="23.8" fill="#00824b"/>
<rect x="966.12" y="694.3" width="15.09" height="23.8" fill="#00508c"/>
<rect x="981.21" y="694.3" width="15.09" height="23.8" fill="#0a32b4"/>
<rect x="996.31" y="694.3" width="15.09" height="23.8" fill="#0000ff"/>
<line x1="800.09" y1="694.3" x2="800.09" y2="718.1" stroke="#222" stroke-width="0.8"/>
<line x1="815.19" y1="694.3" x2="815.19" y2="718.1" stroke="#222" stroke-width="0.8"/>
<line x1="830.28" y1="694.3" x2="830.28" y2="718.1" stroke="#222" stroke-width="0.8"/>
<line x1="845.37" y1="694.3" x2="845.37" y2="718.1" stroke="#222" stroke-width="0.8"/>
<line x1="860.47" y1="694.3" x2="860.47" y2="718.1" stroke="#222" stroke-width="0.8"/>
<line x1="875.56" y1="694.3" x2="875.56" y2="718.1" stroke="#222" stroke-width="0.8"/>
<line x1="890.65" y1="694.3" x2="890.65" y2="718.1" stroke="#222" stroke-width="0.8"/>
<line x1="905.75" y1="694.3" x2="905.75" y2="718.1" stroke="#222" stroke-width="0.8"/>
<line x1="920.84" y1="694.3" x2="920.84" y2="718.1" stroke="#222" stroke-width="0.8"/>
<line x1="935.93" y1="694.3" x2="935.93" y2="718.1" stroke="#222" stroke-width="0.8"/>
<line x1="951.03" y1="694.3" x2="951.03" y2="718.1" stroke="#222" stroke-width="0.8"/>
<line x1="966.12" y1="694.3" x2="966.12" y2="718.1" stroke="#222" stroke-width="0.8"/>
<line x1="981.21" y1="694.3" x2="981.21" y2="718.1" stroke="#222" stroke-width="0.8"/>
<line x1="996.31" y1="694.3" x2="996.31" y2="718.1" stroke="#222" stroke-width="0.8"/>
<rect x="785.0" y="694.3" width="226.4" height="23.8" fill="none" stroke="#222" stroke-width="0.9"/>
<text x="800.1" y="741.4" font-family="Liberation Sans" font-size="15.0" text-anchor="middle" transform="rotate(-45 800.1 736.0)" fill="#222">−60</text>
<text x="815.2" y="741.4" font-family="Liberation Sans" font-size="15.0" text-anchor="middle" transform="rotate(-45 815.2 736.0)" fill="#222">−50</text>
<text x="830.3" y="741.4" font-family="Liberation Sans" font-size="15.0" text-anchor="middle" transform="rotate(-45 830.3 736.0)" fill="#222">−40</text>
<text x="845.4" y="741.4" font-family="Liberation Sans" font-size="15.0" text-anchor="middle" transform="rotate(-45 845.4 736.0)" fill="#222">−30</text>
<text x="860.5" y="741.4" font-family="Liberation Sans" font-size="15.0" text-anchor="middle" transform="rotate(-45 860.5 736.0)" fill="#222">−20</text>
<text x="875.6" y="741.4" font-family="Liberation Sans" font-size="15.0" text-anchor="middle" transform="rotate(-45 875.6 736.0)" fill="#222">−10</text>
<text x="890.7" y="741.4" font-family="Liberation Sans" font-size="15.0" text-anchor="middle" transform="rotate(-45 890.7 736.0)" fill="#222">−5</text>
<text x="905.7" y="741.4" font-family="Liberation Sans" font-size="15.0" text-anchor="middle" transform="rotate(-45 905.7 736.0)" fill="#222">5</text>
<text x="920.8" y="741.4" font-family="Liberation Sans" font-size="15.0" text-anchor="middle" transform="rotate(-45 920.8 736.0)" fill="#222">10</text>
<text x="935.9" y="741.4" font-family="Liberation Sans" font-size="15.0" text-anchor="middle" transform="rotate(-45 935.9 736.0)" fill="#222">20</text>
<text x="951.0" y="741.4" font-family="Liberation Sans" font-size="15.0" text-anchor="middle" transform="rotate(-45 951.0 736.0)" fill="#222">30</text>
<text x="966.1" y="741.4" font-family="Liberation Sans" font-size="15.0" text-anchor="middle" transform="rotate(-45 966.1 736.0)" fill="#222">40</text>
<text x="981.2" y="741.4" font-family="Liberation Sans" font-size="15.0" text-anchor="middle" transform="rotate(-45 981.2 736.0)" fill="#222">50</text>
<text x="996.3" y="741.4" font-family="Liberation Sans" font-size="15.0" text-anchor="middle" transform="rotate(-45 996.3 736.0)" fill="#222">60</text>
</svg>
</body></html>
